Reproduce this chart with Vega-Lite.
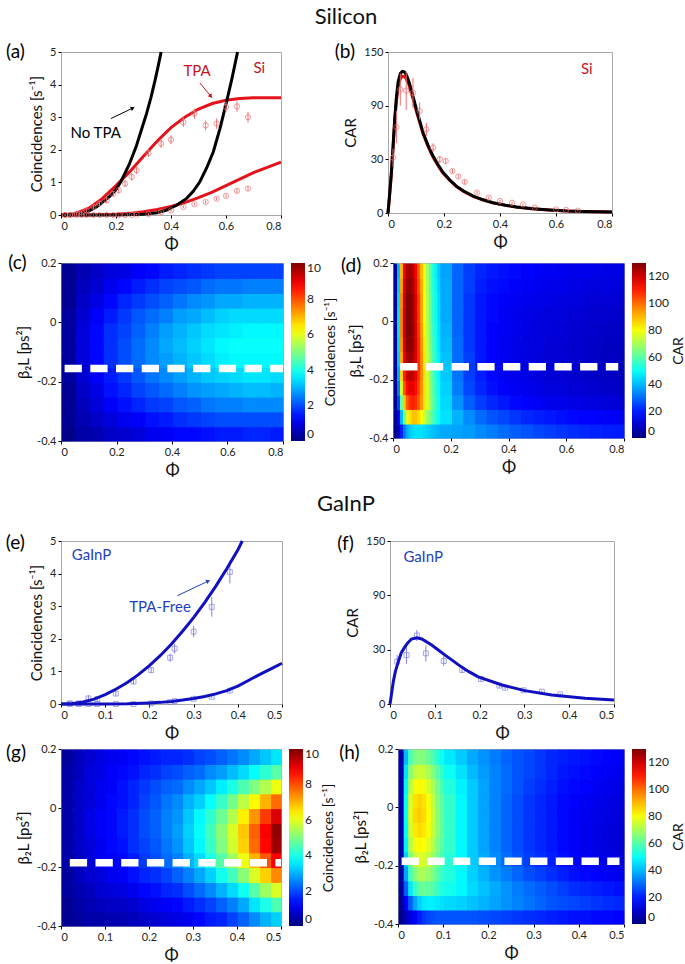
{
"$schema":"https://vega.github.io/schema/vega-lite/v6.json",
"background":"white",
"padding":5,
"config":{"font":"Lato","view":{"stroke":"#A8A8A8","strokeWidth":1},
"axis":{"grid":false,"domain":false,"tickSize":3,"tickColor":"#000","labelFontSize":11,"labelColor":"#222","titleFontSize":15,"titleFontWeight":"normal","titleColor":"#111","labelPadding":2,"titlePadding":5,"format":".3~f","labelOverlap":false,"labelExpr":"replace(datum.label,'−','-')"},
"legend":{"gradientThickness":14,"labelFontSize":12,"labelColor":"#222","titleFontSize":14,"titleFontWeight":"normal","titleColor":"#111","titleOrient":"right","titleAnchor":"middle","offset":8,"labelOffset":3,"titlePadding":3,"gradientStrokeWidth":0,"titleLimit":400},
"title":{"fontWeight":"normal","fontSize":22,"color":"#111","anchor":"middle"}},
"datasets":{
"aRed":[{"s":"r1","x":0,"y":0},{"s":"r1","x":0.05,"y":0.04},{"s":"r1","x":0.1,"y":0.2},{"s":"r1","x":0.15,"y":0.5},{"s":"r1","x":0.2,"y":0.9},{"s":"r1","x":0.25,"y":1.33},{"s":"r1","x":0.3,"y":1.8},{"s":"r1","x":0.35,"y":2.27},{"s":"r1","x":0.4,"y":2.68},{"s":"r1","x":0.45,"y":3.0},{"s":"r1","x":0.5,"y":3.25},{"s":"r1","x":0.55,"y":3.42},{"s":"r1","x":0.6,"y":3.52},{"s":"r1","x":0.65,"y":3.57},{"s":"r1","x":0.7,"y":3.6},{"s":"r1","x":0.75,"y":3.6},{"s":"r1","x":0.8,"y":3.6},
{"s":"r2","x":0,"y":0},{"s":"r2","x":0.1,"y":0},{"s":"r2","x":0.2,"y":0.02},{"s":"r2","x":0.25,"y":0.05},{"s":"r2","x":0.3,"y":0.1},{"s":"r2","x":0.35,"y":0.17},{"s":"r2","x":0.4,"y":0.26},{"s":"r2","x":0.45,"y":0.38},{"s":"r2","x":0.5,"y":0.53},{"s":"r2","x":0.55,"y":0.7},{"s":"r2","x":0.6,"y":0.9},{"s":"r2","x":0.65,"y":1.1},{"s":"r2","x":0.7,"y":1.3},{"s":"r2","x":0.75,"y":1.46},{"s":"r2","x":0.8,"y":1.62}],
"aBlack":[{"s":"k1","x":0,"y":0},{"s":"k1","x":0.04,"y":0.01},{"s":"k1","x":0.07,"y":0.04},{"s":"k1","x":0.1,"y":0.12},{"s":"k1","x":0.13,"y":0.25},{"s":"k1","x":0.155,"y":0.42},{"s":"k1","x":0.178,"y":0.58},{"s":"k1","x":0.2,"y":0.78},{"s":"k1","x":0.22,"y":1.06},{"s":"k1","x":0.248,"y":1.55},{"s":"k1","x":0.273,"y":2.09},{"s":"k1","x":0.292,"y":2.6},{"s":"k1","x":0.311,"y":3.11},{"s":"k1","x":0.327,"y":3.6},{"s":"k1","x":0.342,"y":4.13},{"s":"k1","x":0.353,"y":4.55},{"s":"k1","x":0.364,"y":5},
{"s":"k2","x":0,"y":0},{"s":"k2","x":0.2,"y":0},{"s":"k2","x":0.3,"y":0.02},{"s":"k2","x":0.35,"y":0.07},{"s":"k2","x":0.384,"y":0.15},{"s":"k2","x":0.42,"y":0.3},{"s":"k2","x":0.457,"y":0.51},{"s":"k2","x":0.48,"y":0.72},{"s":"k2","x":0.505,"y":1.02},{"s":"k2","x":0.53,"y":1.45},{"s":"k2","x":0.554,"y":1.94},{"s":"k2","x":0.578,"y":2.65},{"s":"k2","x":0.602,"y":3.47},{"s":"k2","x":0.622,"y":4.2},{"s":"k2","x":0.642,"y":5}],
"aPts":[{"x":0.015,"y":0,"lo":-0.03,"hi":0.03},{"x":0.033,"y":0.01,"lo":-0.02,"hi":0.04},{"x":0.057,"y":0.04,"lo":0,"hi":0.08},{"x":0.075,"y":0.08,"lo":0.03,"hi":0.13},{"x":0.093,"y":0.14,"lo":0.08,"hi":0.2},{"x":0.118,"y":0.25,"lo":0.18,"hi":0.32},{"x":0.14,"y":0.35,"lo":0.27,"hi":0.43},{"x":0.166,"y":0.45,"lo":0.36,"hi":0.54},{"x":0.19,"y":0.65,"lo":0.56,"hi":0.74},{"x":0.21,"y":0.76,"lo":0.66,"hi":0.86},{"x":0.233,"y":0.96,"lo":0.86,"hi":1.06},{"x":0.257,"y":1.17,"lo":1.06,"hi":1.28},{"x":0.275,"y":1.37,"lo":1.26,"hi":1.48},{"x":0.318,"y":1.9,"lo":1.78,"hi":2.02},{"x":0.364,"y":2.19,"lo":2.06,"hi":2.32},{"x":0.4,"y":2.31,"lo":2.17,"hi":2.45},{"x":0.445,"y":2.85,"lo":2.7,"hi":3.0},{"x":0.485,"y":3.11,"lo":2.95,"hi":3.27},{"x":0.526,"y":2.75,"lo":2.6,"hi":2.9},{"x":0.566,"y":2.8,"lo":2.64,"hi":2.96},{"x":0.6,"y":3.31,"lo":3.15,"hi":3.47},{"x":0.64,"y":3.33,"lo":3.17,"hi":3.49},{"x":0.68,"y":3.0,"lo":2.84,"hi":3.16},
{"x":0.015,"y":0,"lo":-0.02,"hi":0.02},{"x":0.033,"y":0,"lo":-0.02,"hi":0.02},{"x":0.057,"y":0,"lo":-0.02,"hi":0.02},{"x":0.075,"y":0,"lo":-0.02,"hi":0.02},{"x":0.093,"y":0,"lo":-0.02,"hi":0.02},{"x":0.118,"y":0,"lo":-0.02,"hi":0.02},{"x":0.14,"y":0,"lo":-0.02,"hi":0.02},{"x":0.166,"y":0,"lo":-0.02,"hi":0.02},{"x":0.19,"y":0,"lo":-0.02,"hi":0.02},{"x":0.21,"y":0,"lo":-0.02,"hi":0.02},{"x":0.233,"y":0,"lo":-0.02,"hi":0.02},{"x":0.257,"y":0,"lo":-0.02,"hi":0.02},{"x":0.275,"y":0.01,"lo":-0.01,"hi":0.03},{"x":0.318,"y":0.03,"lo":0.0,"hi":0.06},{"x":0.364,"y":0.09,"lo":0.06,"hi":0.12},{"x":0.4,"y":0.14,"lo":0.1,"hi":0.18},{"x":0.445,"y":0.25,"lo":0.21,"hi":0.29},{"x":0.485,"y":0.33,"lo":0.29,"hi":0.37},{"x":0.526,"y":0.4,"lo":0.35,"hi":0.45},{"x":0.566,"y":0.5,"lo":0.45,"hi":0.55},{"x":0.6,"y":0.59,"lo":0.54,"hi":0.64},{"x":0.64,"y":0.74,"lo":0.68,"hi":0.8},{"x":0.68,"y":0.81,"lo":0.75,"hi":0.87}],
"bRed":[{"x":0,"y":0},{"x":0.006,"y":17},{"x":0.012,"y":36},{"x":0.018,"y":60},{"x":0.024,"y":85},{"x":0.03,"y":104},{"x":0.036,"y":117},{"x":0.044,"y":125},{"x":0.051,"y":127.5},{"x":0.058,"y":127},{"x":0.065,"y":125},{"x":0.074,"y":120},{"x":0.083,"y":112},{"x":0.092,"y":104},{"x":0.101,"y":95},{"x":0.113,"y":84.5},{"x":0.125,"y":74},{"x":0.143,"y":62},{"x":0.161,"y":52},{"x":0.18,"y":43.5},{"x":0.196,"y":37.3},{"x":0.22,"y":30.5},{"x":0.244,"y":24.6},{"x":0.27,"y":20},{"x":0.304,"y":15.5},{"x":0.34,"y":12},{"x":0.375,"y":9.4},{"x":0.42,"y":7.1},{"x":0.458,"y":5.5},{"x":0.52,"y":3.8},{"x":0.577,"y":2.7},{"x":0.64,"y":1.85},{"x":0.696,"y":1.45},{"x":0.75,"y":1.1},{"x":0.8,"y":0.85}],
"bBlack":[{"x":0,"y":0},{"x":0.006,"y":18},{"x":0.012,"y":37.6},{"x":0.018,"y":62},{"x":0.024,"y":88},{"x":0.03,"y":108},{"x":0.036,"y":122},{"x":0.044,"y":130},{"x":0.051,"y":132},{"x":0.058,"y":131.5},{"x":0.065,"y":129},{"x":0.074,"y":123},{"x":0.083,"y":115},{"x":0.092,"y":106},{"x":0.101,"y":97},{"x":0.113,"y":86},{"x":0.125,"y":75},{"x":0.143,"y":63},{"x":0.161,"y":53},{"x":0.18,"y":44.5},{"x":0.196,"y":38},{"x":0.22,"y":31},{"x":0.244,"y":25},{"x":0.27,"y":20.5},{"x":0.304,"y":15.8},{"x":0.34,"y":12.3},{"x":0.375,"y":9.6},{"x":0.42,"y":7.3},{"x":0.458,"y":5.6},{"x":0.52,"y":3.9},{"x":0.577,"y":2.8},{"x":0.64,"y":1.9},{"x":0.696,"y":1.5},{"x":0.75,"y":1.15},{"x":0.8,"y":0.9}],
"bPts":[{"x":0.018,"y":51.6,"lo":43,"hi":60},{"x":0.03,"y":80,"lo":65,"hi":95},{"x":0.044,"y":115,"lo":100,"hi":130},{"x":0.065,"y":114,"lo":96,"hi":132},{"x":0.089,"y":112,"lo":98,"hi":126},{"x":0.113,"y":95,"lo":87,"hi":103},{"x":0.137,"y":78,"lo":72,"hi":84},{"x":0.161,"y":61,"lo":57,"hi":65},{"x":0.185,"y":50,"lo":47,"hi":53},{"x":0.206,"y":48.4,"lo":46,"hi":51},{"x":0.23,"y":39,"lo":37,"hi":41},{"x":0.251,"y":34,"lo":32,"hi":36},{"x":0.274,"y":29,"lo":27,"hi":31},{"x":0.318,"y":19,"lo":17.5,"hi":20.5},{"x":0.36,"y":14.3,"lo":13,"hi":15.5},{"x":0.4,"y":11.2,"lo":10,"hi":12.4},{"x":0.443,"y":9.6,"lo":8.6,"hi":10.6},{"x":0.482,"y":8,"lo":7,"hi":9},{"x":0.524,"y":5,"lo":4.2,"hi":5.8},{"x":0.6,"y":3.4,"lo":2.9,"hi":3.9},{"x":0.636,"y":2.8,"lo":2.3,"hi":3.3},{"x":0.678,"y":2.2,"lo":1.7,"hi":2.7}],
"eLines":[{"s":"u","x":0,"y":0},{"s":"u","x":0.025,"y":0.01},{"s":"u","x":0.05,"y":0.06},{"s":"u","x":0.075,"y":0.15},{"s":"u","x":0.1,"y":0.29},{"s":"u","x":0.125,"y":0.46},{"s":"u","x":0.15,"y":0.66},{"s":"u","x":0.175,"y":0.9},{"s":"u","x":0.2,"y":1.18},{"s":"u","x":0.225,"y":1.49},{"s":"u","x":0.25,"y":1.84},{"s":"u","x":0.275,"y":2.23},{"s":"u","x":0.3,"y":2.65},{"s":"u","x":0.325,"y":3.11},{"s":"u","x":0.35,"y":3.61},{"s":"u","x":0.375,"y":4.15},{"s":"u","x":0.4,"y":4.72},{"s":"u","x":0.41,"y":5},
{"s":"l","x":0,"y":0},{"s":"l","x":0.1,"y":0},{"s":"l","x":0.15,"y":0.005},{"s":"l","x":0.2,"y":0.03},{"s":"l","x":0.225,"y":0.05},{"s":"l","x":0.25,"y":0.08},{"s":"l","x":0.275,"y":0.12},{"s":"l","x":0.3,"y":0.17},{"s":"l","x":0.325,"y":0.23},{"s":"l","x":0.35,"y":0.31},{"s":"l","x":0.375,"y":0.41},{"s":"l","x":0.4,"y":0.55},{"s":"l","x":0.425,"y":0.73},{"s":"l","x":0.45,"y":0.91},{"s":"l","x":0.475,"y":1.08},{"s":"l","x":0.5,"y":1.25}],
"ePts":[{"x":0.02,"y":0.02,"lo":-0.03,"hi":0.07},{"x":0.04,"y":0.02,"lo":-0.03,"hi":0.07},{"x":0.062,"y":0.17,"lo":0.07,"hi":0.27},{"x":0.082,"y":0.15,"lo":0.07,"hi":0.23},{"x":0.124,"y":0.32,"lo":0.25,"hi":0.39},{"x":0.164,"y":0.69,"lo":0.6,"hi":0.78},{"x":0.204,"y":1.04,"lo":0.95,"hi":1.13},{"x":0.247,"y":1.42,"lo":1.3,"hi":1.54},{"x":0.257,"y":1.7,"lo":1.55,"hi":1.85},{"x":0.3,"y":2.22,"lo":2.05,"hi":2.39},{"x":0.341,"y":2.98,"lo":2.68,"hi":3.28},{"x":0.382,"y":4.05,"lo":3.7,"hi":4.4},
{"x":0.02,"y":0,"lo":-0.02,"hi":0.02},{"x":0.04,"y":0,"lo":-0.02,"hi":0.02},{"x":0.062,"y":0,"lo":-0.02,"hi":0.02},{"x":0.082,"y":0,"lo":-0.02,"hi":0.02},{"x":0.124,"y":0,"lo":-0.02,"hi":0.02},{"x":0.164,"y":0,"lo":-0.02,"hi":0.02},{"x":0.204,"y":0.02,"lo":0,"hi":0.04},{"x":0.247,"y":0.06,"lo":0.03,"hi":0.09},{"x":0.257,"y":0.09,"lo":0.06,"hi":0.12},{"x":0.3,"y":0.16,"lo":0.12,"hi":0.2},{"x":0.341,"y":0.22,"lo":0.18,"hi":0.26},{"x":0.382,"y":0.41,"lo":0.36,"hi":0.46}],
"fLine":[{"x":0,"y":0},{"x":0.003,"y":8},{"x":0.0074,"y":20.6},{"x":0.012,"y":30},{"x":0.0186,"y":39},{"x":0.025,"y":47},{"x":0.0335,"y":52.8},{"x":0.04,"y":56.5},{"x":0.048,"y":59.8},{"x":0.06,"y":61},{"x":0.071,"y":59.8},{"x":0.093,"y":54.3},{"x":0.11,"y":49},{"x":0.123,"y":45},{"x":0.153,"y":36},{"x":0.175,"y":30},{"x":0.197,"y":25},{"x":0.25,"y":17.5},{"x":0.301,"y":12.3},{"x":0.361,"y":8.3},{"x":0.435,"y":5.2},{"x":0.5,"y":3.7}],
"fPts":[{"x":0.016,"y":39,"lo":33,"hi":45},{"x":0.037,"y":45,"lo":37,"hi":53},{"x":0.06,"y":63,"lo":58,"hi":68},{"x":0.08,"y":46.6,"lo":39,"hi":54},{"x":0.12,"y":39.6,"lo":35,"hi":44.5},{"x":0.161,"y":31.3,"lo":28.5,"hi":34},{"x":0.203,"y":23,"lo":21,"hi":25},{"x":0.244,"y":16.9,"lo":15,"hi":18.8},{"x":0.257,"y":15,"lo":13.5,"hi":16.5},{"x":0.298,"y":12.6,"lo":11.2,"hi":14},{"x":0.339,"y":11.3,"lo":10.3,"hi":12.3},{"x":0.38,"y":8.9,"lo":8,"hi":9.8}],
"cMap":[
{"x":0,"y":0.15,"v":0.2},{"x":0.05,"y":0.15,"v":0.5},{"x":0.1,"y":0.15,"v":0.7},{"x":0.15,"y":0.15,"v":0.9},{"x":0.2,"y":0.15,"v":1.0},{"x":0.25,"y":0.15,"v":1.2},{"x":0.3,"y":0.15,"v":1.3},{"x":0.35,"y":0.15,"v":1.5},{"x":0.4,"y":0.15,"v":1.6},{"x":0.45,"y":0.15,"v":1.7},{"x":0.5,"y":0.15,"v":1.8},{"x":0.55,"y":0.15,"v":1.9},{"x":0.6,"y":0.15,"v":1.9},{"x":0.65,"y":0.15,"v":1.9},{"x":0.7,"y":0.15,"v":1.9},{"x":0.75,"y":0.15,"v":1.9},
{"x":0,"y":0.1,"v":0.2},{"x":0.05,"y":0.1,"v":0.6},{"x":0.1,"y":0.1,"v":0.8},{"x":0.15,"y":0.1,"v":1.1},{"x":0.2,"y":0.1,"v":1.3},{"x":0.25,"y":0.1,"v":1.5},{"x":0.3,"y":0.1,"v":1.7},{"x":0.35,"y":0.1,"v":1.9},{"x":0.4,"y":0.1,"v":2.0},{"x":0.45,"y":0.1,"v":2.1},{"x":0.5,"y":0.1,"v":2.3},{"x":0.55,"y":0.1,"v":2.4},{"x":0.6,"y":0.1,"v":2.4},{"x":0.65,"y":0.1,"v":2.5},{"x":0.7,"y":0.1,"v":2.5},{"x":0.75,"y":0.1,"v":2.5},
{"x":0,"y":0.05,"v":0.2},{"x":0.05,"y":0.05,"v":0.7},{"x":0.1,"y":0.05,"v":1.0},{"x":0.15,"y":0.05,"v":1.3},{"x":0.2,"y":0.05,"v":1.6},{"x":0.25,"y":0.05,"v":1.8},{"x":0.3,"y":0.05,"v":2.0},{"x":0.35,"y":0.05,"v":2.2},{"x":0.4,"y":0.05,"v":2.4},{"x":0.45,"y":0.05,"v":2.6},{"x":0.5,"y":0.05,"v":2.7},{"x":0.55,"y":0.05,"v":2.9},{"x":0.6,"y":0.05,"v":2.9},{"x":0.65,"y":0.05,"v":3.0},{"x":0.7,"y":0.05,"v":3.0},{"x":0.75,"y":0.05,"v":3.0},
{"x":0,"y":0,"v":0.3},{"x":0.05,"y":0,"v":0.8},{"x":0.1,"y":0,"v":1.2},{"x":0.15,"y":0,"v":1.5},{"x":0.2,"y":0,"v":1.8},{"x":0.25,"y":0,"v":2.1},{"x":0.3,"y":0,"v":2.3},{"x":0.35,"y":0,"v":2.5},{"x":0.4,"y":0,"v":2.8},{"x":0.45,"y":0,"v":2.9},{"x":0.5,"y":0,"v":3.1},{"x":0.55,"y":0,"v":3.3},{"x":0.6,"y":0,"v":3.4},{"x":0.65,"y":0,"v":3.4},{"x":0.7,"y":0,"v":3.4},{"x":0.75,"y":0,"v":3.4},
{"x":0,"y":-0.05,"v":0.3},{"x":0.05,"y":-0.05,"v":0.9},{"x":0.1,"y":-0.05,"v":1.3},{"x":0.15,"y":-0.05,"v":1.7},{"x":0.2,"y":-0.05,"v":1.9},{"x":0.25,"y":-0.05,"v":2.2},{"x":0.3,"y":-0.05,"v":2.5},{"x":0.35,"y":-0.05,"v":2.8},{"x":0.4,"y":-0.05,"v":3.0},{"x":0.45,"y":-0.05,"v":3.2},{"x":0.5,"y":-0.05,"v":3.4},{"x":0.55,"y":-0.05,"v":3.5},{"x":0.6,"y":-0.05,"v":3.6},{"x":0.65,"y":-0.05,"v":3.7},{"x":0.7,"y":-0.05,"v":3.7},{"x":0.75,"y":-0.05,"v":3.7},
{"x":0,"y":-0.1,"v":0.3},{"x":0.05,"y":-0.1,"v":0.9},{"x":0.1,"y":-0.1,"v":1.3},{"x":0.15,"y":-0.1,"v":1.7},{"x":0.2,"y":-0.1,"v":2.0},{"x":0.25,"y":-0.1,"v":2.3},{"x":0.3,"y":-0.1,"v":2.6},{"x":0.35,"y":-0.1,"v":2.9},{"x":0.4,"y":-0.1,"v":3.1},{"x":0.45,"y":-0.1,"v":3.3},{"x":0.5,"y":-0.1,"v":3.5},{"x":0.55,"y":-0.1,"v":3.7},{"x":0.6,"y":-0.1,"v":3.8},{"x":0.65,"y":-0.1,"v":3.8},{"x":0.7,"y":-0.1,"v":3.8},{"x":0.75,"y":-0.1,"v":3.8},
{"x":0,"y":-0.15,"v":0.3},{"x":0.05,"y":-0.15,"v":0.9},{"x":0.1,"y":-0.15,"v":1.3},{"x":0.15,"y":-0.15,"v":1.7},{"x":0.2,"y":-0.15,"v":2.0},{"x":0.25,"y":-0.15,"v":2.3},{"x":0.3,"y":-0.15,"v":2.6},{"x":0.35,"y":-0.15,"v":2.8},{"x":0.4,"y":-0.15,"v":3.0},{"x":0.45,"y":-0.15,"v":3.2},{"x":0.5,"y":-0.15,"v":3.4},{"x":0.55,"y":-0.15,"v":3.6},{"x":0.6,"y":-0.15,"v":3.7},{"x":0.65,"y":-0.15,"v":3.7},{"x":0.7,"y":-0.15,"v":3.7},{"x":0.75,"y":-0.15,"v":3.7},
{"x":0,"y":-0.2,"v":0.3},{"x":0.05,"y":-0.2,"v":0.8},{"x":0.1,"y":-0.2,"v":1.2},{"x":0.15,"y":-0.2,"v":1.5},{"x":0.2,"y":-0.2,"v":1.8},{"x":0.25,"y":-0.2,"v":2.1},{"x":0.3,"y":-0.2,"v":2.4},{"x":0.35,"y":-0.2,"v":2.6},{"x":0.4,"y":-0.2,"v":2.8},{"x":0.45,"y":-0.2,"v":3.0},{"x":0.5,"y":-0.2,"v":3.2},{"x":0.55,"y":-0.2,"v":3.3},{"x":0.6,"y":-0.2,"v":3.4},{"x":0.65,"y":-0.2,"v":3.5},{"x":0.7,"y":-0.2,"v":3.5},{"x":0.75,"y":-0.2,"v":3.4},
{"x":0,"y":-0.25,"v":0.2},{"x":0.05,"y":-0.25,"v":0.7},{"x":0.1,"y":-0.25,"v":1.0},{"x":0.15,"y":-0.25,"v":1.4},{"x":0.2,"y":-0.25,"v":1.6},{"x":0.25,"y":-0.25,"v":1.9},{"x":0.3,"y":-0.25,"v":2.1},{"x":0.35,"y":-0.25,"v":2.3},{"x":0.4,"y":-0.25,"v":2.5},{"x":0.45,"y":-0.25,"v":2.7},{"x":0.5,"y":-0.25,"v":2.8},{"x":0.55,"y":-0.25,"v":2.9},{"x":0.6,"y":-0.25,"v":3.0},{"x":0.65,"y":-0.25,"v":3.1},{"x":0.7,"y":-0.25,"v":3.1},{"x":0.75,"y":-0.25,"v":3.0},
{"x":0,"y":-0.3,"v":0.2},{"x":0.05,"y":-0.3,"v":0.6},{"x":0.1,"y":-0.3,"v":0.9},{"x":0.15,"y":-0.3,"v":1.2},{"x":0.2,"y":-0.3,"v":1.4},{"x":0.25,"y":-0.3,"v":1.6},{"x":0.3,"y":-0.3,"v":1.8},{"x":0.35,"y":-0.3,"v":1.9},{"x":0.4,"y":-0.3,"v":2.1},{"x":0.45,"y":-0.3,"v":2.2},{"x":0.5,"y":-0.3,"v":2.4},{"x":0.55,"y":-0.3,"v":2.5},{"x":0.6,"y":-0.3,"v":2.5},{"x":0.65,"y":-0.3,"v":2.6},{"x":0.7,"y":-0.3,"v":2.6},{"x":0.75,"y":-0.3,"v":2.6},
{"x":0,"y":-0.35,"v":0.2},{"x":0.05,"y":-0.35,"v":0.5},{"x":0.1,"y":-0.35,"v":0.7},{"x":0.15,"y":-0.35,"v":0.9},{"x":0.2,"y":-0.35,"v":1.1},{"x":0.25,"y":-0.35,"v":1.2},{"x":0.3,"y":-0.35,"v":1.4},{"x":0.35,"y":-0.35,"v":1.5},{"x":0.4,"y":-0.35,"v":1.7},{"x":0.45,"y":-0.35,"v":1.8},{"x":0.5,"y":-0.35,"v":1.9},{"x":0.55,"y":-0.35,"v":2.0},{"x":0.6,"y":-0.35,"v":2.0},{"x":0.65,"y":-0.35,"v":2.0},{"x":0.7,"y":-0.35,"v":2.0},{"x":0.75,"y":-0.35,"v":2.0},
{"x":0,"y":-0.4,"v":0.1},{"x":0.05,"y":-0.4,"v":0.4},{"x":0.1,"y":-0.4,"v":0.5},{"x":0.15,"y":-0.4,"v":0.7},{"x":0.2,"y":-0.4,"v":0.8},{"x":0.25,"y":-0.4,"v":0.9},{"x":0.3,"y":-0.4,"v":1.1},{"x":0.35,"y":-0.4,"v":1.2},{"x":0.4,"y":-0.4,"v":1.3},{"x":0.45,"y":-0.4,"v":1.3},{"x":0.5,"y":-0.4,"v":1.4},{"x":0.55,"y":-0.4,"v":1.5},{"x":0.6,"y":-0.4,"v":1.5},{"x":0.65,"y":-0.4,"v":1.6},{"x":0.7,"y":-0.4,"v":1.6},{"x":0.75,"y":-0.4,"v":1.5}],
"dFine":[
{"x":0,"y":0.15,"v":4},{"x":0.01,"y":0.15,"v":40},{"x":0.02,"y":0.15,"v":90},{"x":0.03,"y":0.15,"v":115},{"x":0.04,"y":0.15,"v":124},{"x":0.05,"y":0.15,"v":126},{"x":0.06,"y":0.15,"v":123},{"x":0.07,"y":0.15,"v":114},{"x":0.08,"y":0.15,"v":102},{"x":0.09,"y":0.15,"v":90},{"x":0.1,"y":0.15,"v":79},{"x":0.11,"y":0.15,"v":69},{"x":0.12,"y":0.15,"v":60},{"x":0.13,"y":0.15,"v":53},{"x":0.14,"y":0.15,"v":47},{"x":0.15,"y":0.15,"v":42},
{"x":0,"y":0.1,"v":4},{"x":0.01,"y":0.1,"v":42},{"x":0.02,"y":0.1,"v":93},{"x":0.03,"y":0.1,"v":118},{"x":0.04,"y":0.1,"v":127},{"x":0.05,"y":0.1,"v":128},{"x":0.06,"y":0.1,"v":125},{"x":0.07,"y":0.1,"v":116},{"x":0.08,"y":0.1,"v":104},{"x":0.09,"y":0.1,"v":92},{"x":0.1,"y":0.1,"v":80},{"x":0.11,"y":0.1,"v":70},{"x":0.12,"y":0.1,"v":61},{"x":0.13,"y":0.1,"v":54},{"x":0.14,"y":0.1,"v":48},{"x":0.15,"y":0.1,"v":43},
{"x":0,"y":0.05,"v":4},{"x":0.01,"y":0.05,"v":44},{"x":0.02,"y":0.05,"v":96},{"x":0.03,"y":0.05,"v":120},{"x":0.04,"y":0.05,"v":129},{"x":0.05,"y":0.05,"v":130},{"x":0.06,"y":0.05,"v":127},{"x":0.07,"y":0.05,"v":118},{"x":0.08,"y":0.05,"v":106},{"x":0.09,"y":0.05,"v":93},{"x":0.1,"y":0.05,"v":81},{"x":0.11,"y":0.05,"v":71},{"x":0.12,"y":0.05,"v":62},{"x":0.13,"y":0.05,"v":55},{"x":0.14,"y":0.05,"v":49},{"x":0.15,"y":0.05,"v":44},
{"x":0,"y":0,"v":4},{"x":0.01,"y":0,"v":45},{"x":0.02,"y":0,"v":97},{"x":0.03,"y":0,"v":121},{"x":0.04,"y":0,"v":130},{"x":0.05,"y":0,"v":130},{"x":0.06,"y":0,"v":127},{"x":0.07,"y":0,"v":118},{"x":0.08,"y":0,"v":106},{"x":0.09,"y":0,"v":93},{"x":0.1,"y":0,"v":81},{"x":0.11,"y":0,"v":71},{"x":0.12,"y":0,"v":62},{"x":0.13,"y":0,"v":55},{"x":0.14,"y":0,"v":49},{"x":0.15,"y":0,"v":44},
{"x":0,"y":-0.05,"v":4},{"x":0.01,"y":-0.05,"v":45},{"x":0.02,"y":-0.05,"v":97},{"x":0.03,"y":-0.05,"v":121},{"x":0.04,"y":-0.05,"v":130},{"x":0.05,"y":-0.05,"v":130},{"x":0.06,"y":-0.05,"v":127},{"x":0.07,"y":-0.05,"v":119},{"x":0.08,"y":-0.05,"v":107},{"x":0.09,"y":-0.05,"v":94},{"x":0.1,"y":-0.05,"v":82},{"x":0.11,"y":-0.05,"v":72},{"x":0.12,"y":-0.05,"v":63},{"x":0.13,"y":-0.05,"v":56},{"x":0.14,"y":-0.05,"v":50},{"x":0.15,"y":-0.05,"v":45},
{"x":0,"y":-0.1,"v":4},{"x":0.01,"y":-0.1,"v":44},{"x":0.02,"y":-0.1,"v":95},{"x":0.03,"y":-0.1,"v":119},{"x":0.04,"y":-0.1,"v":128},{"x":0.05,"y":-0.1,"v":129},{"x":0.06,"y":-0.1,"v":127},{"x":0.07,"y":-0.1,"v":119},{"x":0.08,"y":-0.1,"v":108},{"x":0.09,"y":-0.1,"v":95},{"x":0.1,"y":-0.1,"v":83},{"x":0.11,"y":-0.1,"v":73},{"x":0.12,"y":-0.1,"v":64},{"x":0.13,"y":-0.1,"v":57},{"x":0.14,"y":-0.1,"v":51},{"x":0.15,"y":-0.1,"v":46},
{"x":0,"y":-0.15,"v":4},{"x":0.01,"y":-0.15,"v":42},{"x":0.02,"y":-0.15,"v":92},{"x":0.03,"y":-0.15,"v":116},{"x":0.04,"y":-0.15,"v":125},{"x":0.05,"y":-0.15,"v":127},{"x":0.06,"y":-0.15,"v":125},{"x":0.07,"y":-0.15,"v":118},{"x":0.08,"y":-0.15,"v":108},{"x":0.09,"y":-0.15,"v":96},{"x":0.1,"y":-0.15,"v":84},{"x":0.11,"y":-0.15,"v":74},{"x":0.12,"y":-0.15,"v":65},{"x":0.13,"y":-0.15,"v":58},{"x":0.14,"y":-0.15,"v":52},{"x":0.15,"y":-0.15,"v":47},
{"x":0,"y":-0.2,"v":4},{"x":0.01,"y":-0.2,"v":38},{"x":0.02,"y":-0.2,"v":86},{"x":0.03,"y":-0.2,"v":110},{"x":0.04,"y":-0.2,"v":120},{"x":0.05,"y":-0.2,"v":123},{"x":0.06,"y":-0.2,"v":122},{"x":0.07,"y":-0.2,"v":116},{"x":0.08,"y":-0.2,"v":107},{"x":0.09,"y":-0.2,"v":96},{"x":0.1,"y":-0.2,"v":85},{"x":0.11,"y":-0.2,"v":75},{"x":0.12,"y":-0.2,"v":66},{"x":0.13,"y":-0.2,"v":59},{"x":0.14,"y":-0.2,"v":53},{"x":0.15,"y":-0.2,"v":48},
{"x":0,"y":-0.25,"v":3},{"x":0.01,"y":-0.25,"v":32},{"x":0.02,"y":-0.25,"v":76},{"x":0.03,"y":-0.25,"v":102},{"x":0.04,"y":-0.25,"v":113},{"x":0.05,"y":-0.25,"v":117},{"x":0.06,"y":-0.25,"v":117},{"x":0.07,"y":-0.25,"v":113},{"x":0.08,"y":-0.25,"v":105},{"x":0.09,"y":-0.25,"v":95},{"x":0.1,"y":-0.25,"v":85},{"x":0.11,"y":-0.25,"v":76},{"x":0.12,"y":-0.25,"v":67},{"x":0.13,"y":-0.25,"v":60},{"x":0.14,"y":-0.25,"v":54},{"x":0.15,"y":-0.25,"v":49},
{"x":0,"y":-0.3,"v":3},{"x":0.01,"y":-0.3,"v":25},{"x":0.02,"y":-0.3,"v":62},{"x":0.03,"y":-0.3,"v":88},{"x":0.04,"y":-0.3,"v":102},{"x":0.05,"y":-0.3,"v":108},{"x":0.06,"y":-0.3,"v":110},{"x":0.07,"y":-0.3,"v":108},{"x":0.08,"y":-0.3,"v":102},{"x":0.09,"y":-0.3,"v":94},{"x":0.1,"y":-0.3,"v":85},{"x":0.11,"y":-0.3,"v":76},{"x":0.12,"y":-0.3,"v":68},{"x":0.13,"y":-0.3,"v":61},{"x":0.14,"y":-0.3,"v":55},{"x":0.15,"y":-0.3,"v":50},
{"x":0,"y":-0.35,"v":3},{"x":0.01,"y":-0.35,"v":15},{"x":0.02,"y":-0.35,"v":40},{"x":0.03,"y":-0.35,"v":62},{"x":0.04,"y":-0.35,"v":77},{"x":0.05,"y":-0.35,"v":85},{"x":0.06,"y":-0.35,"v":89},{"x":0.07,"y":-0.35,"v":89},{"x":0.08,"y":-0.35,"v":86},{"x":0.09,"y":-0.35,"v":81},{"x":0.1,"y":-0.35,"v":75},{"x":0.11,"y":-0.35,"v":69},{"x":0.12,"y":-0.35,"v":63},{"x":0.13,"y":-0.35,"v":58},{"x":0.14,"y":-0.35,"v":53},{"x":0.15,"y":-0.35,"v":49},
{"x":0,"y":-0.4,"v":2},{"x":0.01,"y":-0.4,"v":8},{"x":0.02,"y":-0.4,"v":20},{"x":0.03,"y":-0.4,"v":31},{"x":0.04,"y":-0.4,"v":38},{"x":0.05,"y":-0.4,"v":42},{"x":0.06,"y":-0.4,"v":44},{"x":0.07,"y":-0.4,"v":45},{"x":0.08,"y":-0.4,"v":45},{"x":0.09,"y":-0.4,"v":45},{"x":0.1,"y":-0.4,"v":44},{"x":0.11,"y":-0.4,"v":43},{"x":0.12,"y":-0.4,"v":42},{"x":0.13,"y":-0.4,"v":41},{"x":0.14,"y":-0.4,"v":40},{"x":0.15,"y":-0.4,"v":39}],
"dCoarse":[
{"x":0.16,"y":0.15,"v":37},{"x":0.2,"y":0.15,"v":29},{"x":0.24,"y":0.15,"v":24},{"x":0.28,"y":0.15,"v":21},{"x":0.32,"y":0.15,"v":19},{"x":0.36,"y":0.15,"v":18},{"x":0.4,"y":0.15,"v":17},{"x":0.44,"y":0.15,"v":16},{"x":0.48,"y":0.15,"v":15.5},{"x":0.52,"y":0.15,"v":15},{"x":0.56,"y":0.15,"v":14.5},{"x":0.6,"y":0.15,"v":14},{"x":0.64,"y":0.15,"v":14},{"x":0.68,"y":0.15,"v":13.5},{"x":0.72,"y":0.15,"v":13},{"x":0.76,"y":0.15,"v":13},
{"x":0.16,"y":0.1,"v":38},{"x":0.2,"y":0.1,"v":29},{"x":0.24,"y":0.1,"v":24},{"x":0.28,"y":0.1,"v":20},{"x":0.32,"y":0.1,"v":18},{"x":0.36,"y":0.1,"v":17},{"x":0.4,"y":0.1,"v":16},{"x":0.44,"y":0.1,"v":15},{"x":0.48,"y":0.1,"v":14.5},{"x":0.52,"y":0.1,"v":14},{"x":0.56,"y":0.1,"v":13.5},{"x":0.6,"y":0.1,"v":13},{"x":0.64,"y":0.1,"v":12.5},{"x":0.68,"y":0.1,"v":12},{"x":0.72,"y":0.1,"v":12},{"x":0.76,"y":0.1,"v":11.5},
{"x":0.16,"y":0.05,"v":38},{"x":0.2,"y":0.05,"v":29},{"x":0.24,"y":0.05,"v":23},{"x":0.28,"y":0.05,"v":19},{"x":0.32,"y":0.05,"v":17},{"x":0.36,"y":0.05,"v":16},{"x":0.4,"y":0.05,"v":15},{"x":0.44,"y":0.05,"v":14},{"x":0.48,"y":0.05,"v":13.5},{"x":0.52,"y":0.05,"v":13},{"x":0.56,"y":0.05,"v":12.5},{"x":0.6,"y":0.05,"v":12},{"x":0.64,"y":0.05,"v":11.5},{"x":0.68,"y":0.05,"v":11},{"x":0.72,"y":0.05,"v":11},{"x":0.76,"y":0.05,"v":10.5},
{"x":0.16,"y":0,"v":38},{"x":0.2,"y":0,"v":29},{"x":0.24,"y":0,"v":23},{"x":0.28,"y":0,"v":19},{"x":0.32,"y":0,"v":17},{"x":0.36,"y":0,"v":15},{"x":0.4,"y":0,"v":14},{"x":0.44,"y":0,"v":13},{"x":0.48,"y":0,"v":12.5},{"x":0.52,"y":0,"v":12},{"x":0.56,"y":0,"v":11.5},{"x":0.6,"y":0,"v":11},{"x":0.64,"y":0,"v":10.5},{"x":0.68,"y":0,"v":10},{"x":0.72,"y":0,"v":10},{"x":0.76,"y":0,"v":9.5},
{"x":0.16,"y":-0.05,"v":39},{"x":0.2,"y":-0.05,"v":29},{"x":0.24,"y":-0.05,"v":23},{"x":0.28,"y":-0.05,"v":19},{"x":0.32,"y":-0.05,"v":16},{"x":0.36,"y":-0.05,"v":15},{"x":0.4,"y":-0.05,"v":14},{"x":0.44,"y":-0.05,"v":13},{"x":0.48,"y":-0.05,"v":12},{"x":0.52,"y":-0.05,"v":11.5},{"x":0.56,"y":-0.05,"v":11},{"x":0.6,"y":-0.05,"v":10.5},{"x":0.64,"y":-0.05,"v":10},{"x":0.68,"y":-0.05,"v":9.5},{"x":0.72,"y":-0.05,"v":9},{"x":0.76,"y":-0.05,"v":9},
{"x":0.16,"y":-0.1,"v":40},{"x":0.2,"y":-0.1,"v":30},{"x":0.24,"y":-0.1,"v":23},{"x":0.28,"y":-0.1,"v":19},{"x":0.32,"y":-0.1,"v":16},{"x":0.36,"y":-0.1,"v":15},{"x":0.4,"y":-0.1,"v":13.5},{"x":0.44,"y":-0.1,"v":12.5},{"x":0.48,"y":-0.1,"v":12},{"x":0.52,"y":-0.1,"v":11},{"x":0.56,"y":-0.1,"v":10.5},{"x":0.6,"y":-0.1,"v":10},{"x":0.64,"y":-0.1,"v":9.5},{"x":0.68,"y":-0.1,"v":9},{"x":0.72,"y":-0.1,"v":8.5},{"x":0.76,"y":-0.1,"v":8.5},
{"x":0.16,"y":-0.15,"v":41},{"x":0.2,"y":-0.15,"v":30},{"x":0.24,"y":-0.15,"v":24},{"x":0.28,"y":-0.15,"v":19},{"x":0.32,"y":-0.15,"v":16},{"x":0.36,"y":-0.15,"v":15},{"x":0.4,"y":-0.15,"v":13.5},{"x":0.44,"y":-0.15,"v":12.5},{"x":0.48,"y":-0.15,"v":11.5},{"x":0.52,"y":-0.15,"v":11},{"x":0.56,"y":-0.15,"v":10.5},{"x":0.6,"y":-0.15,"v":10},{"x":0.64,"y":-0.15,"v":9.5},{"x":0.68,"y":-0.15,"v":9},{"x":0.72,"y":-0.15,"v":8.5},{"x":0.76,"y":-0.15,"v":8},
{"x":0.16,"y":-0.2,"v":42},{"x":0.2,"y":-0.2,"v":31},{"x":0.24,"y":-0.2,"v":24},{"x":0.28,"y":-0.2,"v":20},{"x":0.32,"y":-0.2,"v":17},{"x":0.36,"y":-0.2,"v":15},{"x":0.4,"y":-0.2,"v":14},{"x":0.44,"y":-0.2,"v":13},{"x":0.48,"y":-0.2,"v":12},{"x":0.52,"y":-0.2,"v":11},{"x":0.56,"y":-0.2,"v":10.5},{"x":0.6,"y":-0.2,"v":10},{"x":0.64,"y":-0.2,"v":9.5},{"x":0.68,"y":-0.2,"v":9},{"x":0.72,"y":-0.2,"v":8.5},{"x":0.76,"y":-0.2,"v":8},
{"x":0.16,"y":-0.25,"v":43},{"x":0.2,"y":-0.25,"v":32},{"x":0.24,"y":-0.25,"v":25},{"x":0.28,"y":-0.25,"v":21},{"x":0.32,"y":-0.25,"v":18},{"x":0.36,"y":-0.25,"v":16},{"x":0.4,"y":-0.25,"v":15},{"x":0.44,"y":-0.25,"v":14},{"x":0.48,"y":-0.25,"v":13},{"x":0.52,"y":-0.25,"v":12},{"x":0.56,"y":-0.25,"v":11.5},{"x":0.6,"y":-0.25,"v":11},{"x":0.64,"y":-0.25,"v":10.5},{"x":0.68,"y":-0.25,"v":10},{"x":0.72,"y":-0.25,"v":9.5},{"x":0.76,"y":-0.25,"v":9},
{"x":0.16,"y":-0.3,"v":44},{"x":0.2,"y":-0.3,"v":35},{"x":0.24,"y":-0.3,"v":28},{"x":0.28,"y":-0.3,"v":24},{"x":0.32,"y":-0.3,"v":21},{"x":0.36,"y":-0.3,"v":19},{"x":0.4,"y":-0.3,"v":17},{"x":0.44,"y":-0.3,"v":16},{"x":0.48,"y":-0.3,"v":15},{"x":0.52,"y":-0.3,"v":14},{"x":0.56,"y":-0.3,"v":13.5},{"x":0.6,"y":-0.3,"v":13},{"x":0.64,"y":-0.3,"v":12.5},{"x":0.68,"y":-0.3,"v":12},{"x":0.72,"y":-0.3,"v":11.5},{"x":0.76,"y":-0.3,"v":11},
{"x":0.16,"y":-0.35,"v":45},{"x":0.2,"y":-0.35,"v":39},{"x":0.24,"y":-0.35,"v":34},{"x":0.28,"y":-0.35,"v":30},{"x":0.32,"y":-0.35,"v":27},{"x":0.36,"y":-0.35,"v":25},{"x":0.4,"y":-0.35,"v":23},{"x":0.44,"y":-0.35,"v":21},{"x":0.48,"y":-0.35,"v":20},{"x":0.52,"y":-0.35,"v":19},{"x":0.56,"y":-0.35,"v":18},{"x":0.6,"y":-0.35,"v":17},{"x":0.64,"y":-0.35,"v":16.5},{"x":0.68,"y":-0.35,"v":16},{"x":0.72,"y":-0.35,"v":15.5},{"x":0.76,"y":-0.35,"v":15},
{"x":0.16,"y":-0.4,"v":38},{"x":0.2,"y":-0.4,"v":37},{"x":0.24,"y":-0.4,"v":36},{"x":0.28,"y":-0.4,"v":34},{"x":0.32,"y":-0.4,"v":32},{"x":0.36,"y":-0.4,"v":30},{"x":0.4,"y":-0.4,"v":28},{"x":0.44,"y":-0.4,"v":27},{"x":0.48,"y":-0.4,"v":25},{"x":0.52,"y":-0.4,"v":24},{"x":0.56,"y":-0.4,"v":23},{"x":0.6,"y":-0.4,"v":22},{"x":0.64,"y":-0.4,"v":21},{"x":0.68,"y":-0.4,"v":20.5},{"x":0.72,"y":-0.4,"v":20},{"x":0.76,"y":-0.4,"v":19.5}],
"gMap":[
{"x":0,"y":0.15,"v":0.3},{"x":0.025,"y":0.15,"v":0.6},{"x":0.05,"y":0.15,"v":0.8},{"x":0.075,"y":0.15,"v":1.0},{"x":0.1,"y":0.15,"v":1.1},{"x":0.125,"y":0.15,"v":1.2},{"x":0.15,"y":0.15,"v":1.3},{"x":0.175,"y":0.15,"v":1.4},{"x":0.2,"y":0.15,"v":1.5},{"x":0.225,"y":0.15,"v":1.6},{"x":0.25,"y":0.15,"v":1.6},{"x":0.275,"y":0.15,"v":1.7},{"x":0.3,"y":0.15,"v":1.9},{"x":0.325,"y":0.15,"v":2.0},{"x":0.35,"y":0.15,"v":2.2},{"x":0.375,"y":0.15,"v":2.4},{"x":0.4,"y":0.15,"v":2.6},{"x":0.425,"y":0.15,"v":2.9},{"x":0.45,"y":0.15,"v":3.2},{"x":0.475,"y":0.15,"v":3.5},
{"x":0,"y":0.1,"v":0.4},{"x":0.025,"y":0.1,"v":0.6},{"x":0.05,"y":0.1,"v":0.9},{"x":0.075,"y":0.1,"v":1.0},{"x":0.1,"y":0.1,"v":1.2},{"x":0.125,"y":0.1,"v":1.3},{"x":0.15,"y":0.1,"v":1.4},{"x":0.175,"y":0.1,"v":1.6},{"x":0.2,"y":0.1,"v":1.7},{"x":0.225,"y":0.1,"v":1.9},{"x":0.25,"y":0.1,"v":2.0},{"x":0.275,"y":0.1,"v":2.2},{"x":0.3,"y":0.1,"v":2.3},{"x":0.325,"y":0.1,"v":2.6},{"x":0.35,"y":0.1,"v":2.8},{"x":0.375,"y":0.1,"v":3.1},{"x":0.4,"y":0.1,"v":3.4},{"x":0.425,"y":0.1,"v":3.8},{"x":0.45,"y":0.1,"v":4.2},{"x":0.475,"y":0.1,"v":4.6},
{"x":0,"y":0.05,"v":0.4},{"x":0.025,"y":0.05,"v":0.7},{"x":0.05,"y":0.05,"v":0.9},{"x":0.075,"y":0.05,"v":1.1},{"x":0.1,"y":0.05,"v":1.2},{"x":0.125,"y":0.05,"v":1.4},{"x":0.15,"y":0.05,"v":1.6},{"x":0.175,"y":0.05,"v":1.8},{"x":0.2,"y":0.05,"v":2.0},{"x":0.225,"y":0.05,"v":2.2},{"x":0.25,"y":0.05,"v":2.3},{"x":0.275,"y":0.05,"v":2.6},{"x":0.3,"y":0.05,"v":2.9},{"x":0.325,"y":0.05,"v":3.2},{"x":0.35,"y":0.05,"v":3.6},{"x":0.375,"y":0.05,"v":4.0},{"x":0.4,"y":0.05,"v":4.5},{"x":0.425,"y":0.05,"v":5.0},{"x":0.45,"y":0.05,"v":5.5},{"x":0.475,"y":0.05,"v":6.1},
{"x":0,"y":0,"v":0.4},{"x":0.025,"y":0,"v":0.7},{"x":0.05,"y":0,"v":0.9},{"x":0.075,"y":0,"v":1.1},{"x":0.1,"y":0,"v":1.3},{"x":0.125,"y":0,"v":1.4},{"x":0.15,"y":0,"v":1.6},{"x":0.175,"y":0,"v":1.9},{"x":0.2,"y":0,"v":2.1},{"x":0.225,"y":0,"v":2.4},{"x":0.25,"y":0,"v":2.6},{"x":0.275,"y":0,"v":3.0},{"x":0.3,"y":0,"v":3.3},{"x":0.325,"y":0,"v":3.8},{"x":0.35,"y":0,"v":4.3},{"x":0.375,"y":0,"v":4.9},{"x":0.4,"y":0,"v":5.6},{"x":0.425,"y":0,"v":6.3},{"x":0.45,"y":0,"v":7.0},{"x":0.475,"y":0,"v":7.7},
{"x":0,"y":-0.05,"v":0.4},{"x":0.025,"y":-0.05,"v":0.7},{"x":0.05,"y":-0.05,"v":1.0},{"x":0.075,"y":-0.05,"v":1.2},{"x":0.1,"y":-0.05,"v":1.3},{"x":0.125,"y":-0.05,"v":1.5},{"x":0.15,"y":-0.05,"v":1.7},{"x":0.175,"y":-0.05,"v":2.0},{"x":0.2,"y":-0.05,"v":2.2},{"x":0.225,"y":-0.05,"v":2.5},{"x":0.25,"y":-0.05,"v":2.7},{"x":0.275,"y":-0.05,"v":3.2},{"x":0.3,"y":-0.05,"v":3.7},{"x":0.325,"y":-0.05,"v":4.2},{"x":0.35,"y":-0.05,"v":4.8},{"x":0.375,"y":-0.05,"v":5.5},{"x":0.4,"y":-0.05,"v":6.4},{"x":0.425,"y":-0.05,"v":7.3},{"x":0.45,"y":-0.05,"v":8.2},{"x":0.475,"y":-0.05,"v":9.1},
{"x":0,"y":-0.1,"v":0.4},{"x":0.025,"y":-0.1,"v":0.7},{"x":0.05,"y":-0.1,"v":1.0},{"x":0.075,"y":-0.1,"v":1.2},{"x":0.1,"y":-0.1,"v":1.3},{"x":0.125,"y":-0.1,"v":1.5},{"x":0.15,"y":-0.1,"v":1.7},{"x":0.175,"y":-0.1,"v":2.0},{"x":0.2,"y":-0.1,"v":2.2},{"x":0.225,"y":-0.1,"v":2.5},{"x":0.25,"y":-0.1,"v":2.8},{"x":0.275,"y":-0.1,"v":3.3},{"x":0.3,"y":-0.1,"v":3.8},{"x":0.325,"y":-0.1,"v":4.4},{"x":0.35,"y":-0.1,"v":5.1},{"x":0.375,"y":-0.1,"v":5.9},{"x":0.4,"y":-0.1,"v":6.8},{"x":0.425,"y":-0.1,"v":7.8},{"x":0.45,"y":-0.1,"v":8.8},{"x":0.475,"y":-0.1,"v":9.8},
{"x":0,"y":-0.15,"v":0.4},{"x":0.025,"y":-0.15,"v":0.7},{"x":0.05,"y":-0.15,"v":0.9},{"x":0.075,"y":-0.15,"v":1.1},{"x":0.1,"y":-0.15,"v":1.3},{"x":0.125,"y":-0.15,"v":1.4},{"x":0.15,"y":-0.15,"v":1.7},{"x":0.175,"y":-0.15,"v":1.9},{"x":0.2,"y":-0.15,"v":2.1},{"x":0.225,"y":-0.15,"v":2.4},{"x":0.25,"y":-0.15,"v":2.7},{"x":0.275,"y":-0.15,"v":3.2},{"x":0.3,"y":-0.15,"v":3.7},{"x":0.325,"y":-0.15,"v":4.3},{"x":0.35,"y":-0.15,"v":5.0},{"x":0.375,"y":-0.15,"v":5.8},{"x":0.4,"y":-0.15,"v":6.7},{"x":0.425,"y":-0.15,"v":7.7},{"x":0.45,"y":-0.15,"v":8.7},{"x":0.475,"y":-0.15,"v":9.7},
{"x":0,"y":-0.2,"v":0.4},{"x":0.025,"y":-0.2,"v":0.6},{"x":0.05,"y":-0.2,"v":0.9},{"x":0.075,"y":-0.2,"v":1.1},{"x":0.1,"y":-0.2,"v":1.2},{"x":0.125,"y":-0.2,"v":1.3},{"x":0.15,"y":-0.2,"v":1.5},{"x":0.175,"y":-0.2,"v":1.8},{"x":0.2,"y":-0.2,"v":2.0},{"x":0.225,"y":-0.2,"v":2.3},{"x":0.25,"y":-0.2,"v":2.5},{"x":0.275,"y":-0.2,"v":3.0},{"x":0.3,"y":-0.2,"v":3.4},{"x":0.325,"y":-0.2,"v":4.0},{"x":0.35,"y":-0.2,"v":4.6},{"x":0.375,"y":-0.2,"v":5.3},{"x":0.4,"y":-0.2,"v":6.1},{"x":0.425,"y":-0.2,"v":7.0},{"x":0.45,"y":-0.2,"v":7.9},{"x":0.475,"y":-0.2,"v":8.8},
{"x":0,"y":-0.25,"v":0.3},{"x":0.025,"y":-0.25,"v":0.6},{"x":0.05,"y":-0.25,"v":0.8},{"x":0.075,"y":-0.25,"v":0.9},{"x":0.1,"y":-0.25,"v":1.1},{"x":0.125,"y":-0.25,"v":1.2},{"x":0.15,"y":-0.25,"v":1.4},{"x":0.175,"y":-0.25,"v":1.6},{"x":0.2,"y":-0.25,"v":1.7},{"x":0.225,"y":-0.25,"v":1.9},{"x":0.25,"y":-0.25,"v":2.2},{"x":0.275,"y":-0.25,"v":2.5},{"x":0.3,"y":-0.25,"v":2.9},{"x":0.325,"y":-0.25,"v":3.3},{"x":0.35,"y":-0.25,"v":3.9},{"x":0.375,"y":-0.25,"v":4.4},{"x":0.4,"y":-0.25,"v":5.1},{"x":0.425,"y":-0.25,"v":5.9},{"x":0.45,"y":-0.25,"v":6.7},{"x":0.475,"y":-0.25,"v":7.4},
{"x":0,"y":-0.3,"v":0.3},{"x":0.025,"y":-0.3,"v":0.5},{"x":0.05,"y":-0.3,"v":0.6},{"x":0.075,"y":-0.3,"v":0.8},{"x":0.1,"y":-0.3,"v":0.9},{"x":0.125,"y":-0.3,"v":1.0},{"x":0.15,"y":-0.3,"v":1.1},{"x":0.175,"y":-0.3,"v":1.3},{"x":0.2,"y":-0.3,"v":1.4},{"x":0.225,"y":-0.3,"v":1.6},{"x":0.25,"y":-0.3,"v":1.7},{"x":0.275,"y":-0.3,"v":2.0},{"x":0.3,"y":-0.3,"v":2.3},{"x":0.325,"y":-0.3,"v":2.6},{"x":0.35,"y":-0.3,"v":3.0},{"x":0.375,"y":-0.3,"v":3.4},{"x":0.4,"y":-0.3,"v":3.9},{"x":0.425,"y":-0.3,"v":4.6},{"x":0.45,"y":-0.3,"v":5.3},{"x":0.475,"y":-0.3,"v":5.9},
{"x":0,"y":-0.35,"v":0.2},{"x":0.025,"y":-0.35,"v":0.4},{"x":0.05,"y":-0.35,"v":0.5},{"x":0.075,"y":-0.35,"v":0.6},{"x":0.1,"y":-0.35,"v":0.7},{"x":0.125,"y":-0.35,"v":0.7},{"x":0.15,"y":-0.35,"v":0.8},{"x":0.175,"y":-0.35,"v":1.0},{"x":0.2,"y":-0.35,"v":1.1},{"x":0.225,"y":-0.35,"v":1.2},{"x":0.25,"y":-0.35,"v":1.3},{"x":0.275,"y":-0.35,"v":1.5},{"x":0.3,"y":-0.35,"v":1.7},{"x":0.325,"y":-0.35,"v":1.9},{"x":0.35,"y":-0.35,"v":2.2},{"x":0.375,"y":-0.35,"v":2.5},{"x":0.4,"y":-0.35,"v":2.9},{"x":0.425,"y":-0.35,"v":3.5},{"x":0.45,"y":-0.35,"v":4.0},{"x":0.475,"y":-0.35,"v":4.5},
{"x":0,"y":-0.4,"v":0.2},{"x":0.025,"y":-0.4,"v":0.3},{"x":0.05,"y":-0.4,"v":0.4},{"x":0.075,"y":-0.4,"v":0.4},{"x":0.1,"y":-0.4,"v":0.5},{"x":0.125,"y":-0.4,"v":0.5},{"x":0.15,"y":-0.4,"v":0.6},{"x":0.175,"y":-0.4,"v":0.7},{"x":0.2,"y":-0.4,"v":0.8},{"x":0.225,"y":-0.4,"v":0.9},{"x":0.25,"y":-0.4,"v":1.0},{"x":0.275,"y":-0.4,"v":1.1},{"x":0.3,"y":-0.4,"v":1.3},{"x":0.325,"y":-0.4,"v":1.5},{"x":0.35,"y":-0.4,"v":1.6},{"x":0.375,"y":-0.4,"v":1.9},{"x":0.4,"y":-0.4,"v":2.2},{"x":0.425,"y":-0.4,"v":2.6},{"x":0.45,"y":-0.4,"v":3.0},{"x":0.475,"y":-0.4,"v":3.3}],
"hFine":[
{"x":0,"y":0.15,"v":5},{"x":0.01,"y":0.15,"v":40},{"x":0.02,"y":0.15,"v":58},{"x":0.03,"y":0.15,"v":64},{"x":0.04,"y":0.15,"v":66},{"x":0.05,"y":0.15,"v":65},{"x":0.06,"y":0.15,"v":62},{"x":0.07,"y":0.15,"v":58},{"x":0.08,"y":0.15,"v":54},{"x":0.09,"y":0.15,"v":50},
{"x":0,"y":0.1,"v":5},{"x":0.01,"y":0.1,"v":45},{"x":0.02,"y":0.1,"v":66},{"x":0.03,"y":0.1,"v":73},{"x":0.04,"y":0.1,"v":75},{"x":0.05,"y":0.1,"v":74},{"x":0.06,"y":0.1,"v":70},{"x":0.07,"y":0.1,"v":65},{"x":0.08,"y":0.1,"v":60},{"x":0.09,"y":0.1,"v":55},
{"x":0,"y":0.05,"v":5},{"x":0.01,"y":0.05,"v":48},{"x":0.02,"y":0.05,"v":72},{"x":0.03,"y":0.05,"v":80},{"x":0.04,"y":0.05,"v":82},{"x":0.05,"y":0.05,"v":80},{"x":0.06,"y":0.05,"v":76},{"x":0.07,"y":0.05,"v":70},{"x":0.08,"y":0.05,"v":64},{"x":0.09,"y":0.05,"v":58},
{"x":0,"y":0,"v":5},{"x":0.01,"y":0,"v":50},{"x":0.02,"y":0,"v":76},{"x":0.03,"y":0,"v":85},{"x":0.04,"y":0,"v":87},{"x":0.05,"y":0,"v":85},{"x":0.06,"y":0,"v":80},{"x":0.07,"y":0,"v":73},{"x":0.08,"y":0,"v":66},{"x":0.09,"y":0,"v":60},
{"x":0,"y":-0.05,"v":5},{"x":0.01,"y":-0.05,"v":50},{"x":0.02,"y":-0.05,"v":77},{"x":0.03,"y":-0.05,"v":86},{"x":0.04,"y":-0.05,"v":88},{"x":0.05,"y":-0.05,"v":86},{"x":0.06,"y":-0.05,"v":81},{"x":0.07,"y":-0.05,"v":74},{"x":0.08,"y":-0.05,"v":67},{"x":0.09,"y":-0.05,"v":61},
{"x":0,"y":-0.1,"v":5},{"x":0.01,"y":-0.1,"v":49},{"x":0.02,"y":-0.1,"v":75},{"x":0.03,"y":-0.1,"v":84},{"x":0.04,"y":-0.1,"v":86},{"x":0.05,"y":-0.1,"v":84},{"x":0.06,"y":-0.1,"v":80},{"x":0.07,"y":-0.1,"v":73},{"x":0.08,"y":-0.1,"v":67},{"x":0.09,"y":-0.1,"v":61},
{"x":0,"y":-0.15,"v":5},{"x":0.01,"y":-0.15,"v":47},{"x":0.02,"y":-0.15,"v":71},{"x":0.03,"y":-0.15,"v":80},{"x":0.04,"y":-0.15,"v":82},{"x":0.05,"y":-0.15,"v":81},{"x":0.06,"y":-0.15,"v":77},{"x":0.07,"y":-0.15,"v":71},{"x":0.08,"y":-0.15,"v":65},{"x":0.09,"y":-0.15,"v":60},
{"x":0,"y":-0.2,"v":5},{"x":0.01,"y":-0.2,"v":43},{"x":0.02,"y":-0.2,"v":65},{"x":0.03,"y":-0.2,"v":74},{"x":0.04,"y":-0.2,"v":77},{"x":0.05,"y":-0.2,"v":76},{"x":0.06,"y":-0.2,"v":73},{"x":0.07,"y":-0.2,"v":68},{"x":0.08,"y":-0.2,"v":63},{"x":0.09,"y":-0.2,"v":58},
{"x":0,"y":-0.25,"v":4},{"x":0.01,"y":-0.25,"v":37},{"x":0.02,"y":-0.25,"v":57},{"x":0.03,"y":-0.25,"v":66},{"x":0.04,"y":-0.25,"v":70},{"x":0.05,"y":-0.25,"v":70},{"x":0.06,"y":-0.25,"v":68},{"x":0.07,"y":-0.25,"v":64},{"x":0.08,"y":-0.25,"v":60},{"x":0.09,"y":-0.25,"v":56},
{"x":0,"y":-0.3,"v":4},{"x":0.01,"y":-0.3,"v":28},{"x":0.02,"y":-0.3,"v":46},{"x":0.03,"y":-0.3,"v":56},{"x":0.04,"y":-0.3,"v":61},{"x":0.05,"y":-0.3,"v":62},{"x":0.06,"y":-0.3,"v":61},{"x":0.07,"y":-0.3,"v":59},{"x":0.08,"y":-0.3,"v":56},{"x":0.09,"y":-0.3,"v":53},
{"x":0,"y":-0.35,"v":3},{"x":0.01,"y":-0.35,"v":15},{"x":0.02,"y":-0.35,"v":28},{"x":0.03,"y":-0.35,"v":37},{"x":0.04,"y":-0.35,"v":43},{"x":0.05,"y":-0.35,"v":46},{"x":0.06,"y":-0.35,"v":47},{"x":0.07,"y":-0.35,"v":47},{"x":0.08,"y":-0.35,"v":46},{"x":0.09,"y":-0.35,"v":45},
{"x":0,"y":-0.4,"v":2},{"x":0.01,"y":-0.4,"v":7},{"x":0.02,"y":-0.4,"v":12},{"x":0.03,"y":-0.4,"v":16},{"x":0.04,"y":-0.4,"v":20},{"x":0.05,"y":-0.4,"v":23},{"x":0.06,"y":-0.4,"v":25},{"x":0.07,"y":-0.4,"v":26},{"x":0.08,"y":-0.4,"v":27},{"x":0.09,"y":-0.4,"v":27}],
"hCoarse":[
{"x":0.1,"y":0.15,"v":46},{"x":0.125,"y":0.15,"v":42},{"x":0.15,"y":0.15,"v":38},{"x":0.175,"y":0.15,"v":35},{"x":0.2,"y":0.15,"v":32},{"x":0.225,"y":0.15,"v":29},{"x":0.25,"y":0.15,"v":27},{"x":0.275,"y":0.15,"v":25},{"x":0.3,"y":0.15,"v":23},{"x":0.325,"y":0.15,"v":21},{"x":0.35,"y":0.15,"v":20},{"x":0.375,"y":0.15,"v":19},{"x":0.4,"y":0.15,"v":18},{"x":0.425,"y":0.15,"v":17},{"x":0.45,"y":0.15,"v":16},{"x":0.475,"y":0.15,"v":15},
{"x":0.1,"y":0.1,"v":50},{"x":0.125,"y":0.1,"v":45},{"x":0.15,"y":0.1,"v":40},{"x":0.175,"y":0.1,"v":36},{"x":0.2,"y":0.1,"v":33},{"x":0.225,"y":0.1,"v":30},{"x":0.25,"y":0.1,"v":27},{"x":0.275,"y":0.1,"v":25},{"x":0.3,"y":0.1,"v":23},{"x":0.325,"y":0.1,"v":21},{"x":0.35,"y":0.1,"v":19},{"x":0.375,"y":0.1,"v":18},{"x":0.4,"y":0.1,"v":17},{"x":0.425,"y":0.1,"v":16},{"x":0.45,"y":0.1,"v":15},{"x":0.475,"y":0.1,"v":14},
{"x":0.1,"y":0.05,"v":53},{"x":0.125,"y":0.05,"v":47},{"x":0.15,"y":0.05,"v":42},{"x":0.175,"y":0.05,"v":37},{"x":0.2,"y":0.05,"v":33},{"x":0.225,"y":0.05,"v":30},{"x":0.25,"y":0.05,"v":27},{"x":0.275,"y":0.05,"v":24},{"x":0.3,"y":0.05,"v":22},{"x":0.325,"y":0.05,"v":20},{"x":0.35,"y":0.05,"v":18},{"x":0.375,"y":0.05,"v":17},{"x":0.4,"y":0.05,"v":16},{"x":0.425,"y":0.05,"v":15},{"x":0.45,"y":0.05,"v":14},{"x":0.475,"y":0.05,"v":13},
{"x":0.1,"y":0,"v":55},{"x":0.125,"y":0,"v":48},{"x":0.15,"y":0,"v":42},{"x":0.175,"y":0,"v":37},{"x":0.2,"y":0,"v":33},{"x":0.225,"y":0,"v":29},{"x":0.25,"y":0,"v":26},{"x":0.275,"y":0,"v":23},{"x":0.3,"y":0,"v":21},{"x":0.325,"y":0,"v":19},{"x":0.35,"y":0,"v":17},{"x":0.375,"y":0,"v":16},{"x":0.4,"y":0,"v":15},{"x":0.425,"y":0,"v":14},{"x":0.45,"y":0,"v":13},{"x":0.475,"y":0,"v":12},
{"x":0.1,"y":-0.05,"v":55},{"x":0.125,"y":-0.05,"v":48},{"x":0.15,"y":-0.05,"v":42},{"x":0.175,"y":-0.05,"v":37},{"x":0.2,"y":-0.05,"v":33},{"x":0.225,"y":-0.05,"v":29},{"x":0.25,"y":-0.05,"v":26},{"x":0.275,"y":-0.05,"v":23},{"x":0.3,"y":-0.05,"v":21},{"x":0.325,"y":-0.05,"v":19},{"x":0.35,"y":-0.05,"v":17},{"x":0.375,"y":-0.05,"v":15.5},{"x":0.4,"y":-0.05,"v":14.5},{"x":0.425,"y":-0.05,"v":13.5},{"x":0.45,"y":-0.05,"v":12.5},{"x":0.475,"y":-0.05,"v":11.5},
{"x":0.1,"y":-0.1,"v":55},{"x":0.125,"y":-0.1,"v":48},{"x":0.15,"y":-0.1,"v":42},{"x":0.175,"y":-0.1,"v":37},{"x":0.2,"y":-0.1,"v":33},{"x":0.225,"y":-0.1,"v":29},{"x":0.25,"y":-0.1,"v":26},{"x":0.275,"y":-0.1,"v":23},{"x":0.3,"y":-0.1,"v":21},{"x":0.325,"y":-0.1,"v":19},{"x":0.35,"y":-0.1,"v":17},{"x":0.375,"y":-0.1,"v":15.5},{"x":0.4,"y":-0.1,"v":14},{"x":0.425,"y":-0.1,"v":13},{"x":0.45,"y":-0.1,"v":12},{"x":0.475,"y":-0.1,"v":11},
{"x":0.1,"y":-0.15,"v":55},{"x":0.125,"y":-0.15,"v":48},{"x":0.15,"y":-0.15,"v":42},{"x":0.175,"y":-0.15,"v":37},{"x":0.2,"y":-0.15,"v":33},{"x":0.225,"y":-0.15,"v":29},{"x":0.25,"y":-0.15,"v":26},{"x":0.275,"y":-0.15,"v":23},{"x":0.3,"y":-0.15,"v":21},{"x":0.325,"y":-0.15,"v":19},{"x":0.35,"y":-0.15,"v":17},{"x":0.375,"y":-0.15,"v":15.5},{"x":0.4,"y":-0.15,"v":14},{"x":0.425,"y":-0.15,"v":13},{"x":0.45,"y":-0.15,"v":12},{"x":0.475,"y":-0.15,"v":11},
{"x":0.1,"y":-0.2,"v":54},{"x":0.125,"y":-0.2,"v":48},{"x":0.15,"y":-0.2,"v":42},{"x":0.175,"y":-0.2,"v":38},{"x":0.2,"y":-0.2,"v":34},{"x":0.225,"y":-0.2,"v":30},{"x":0.25,"y":-0.2,"v":27},{"x":0.275,"y":-0.2,"v":24},{"x":0.3,"y":-0.2,"v":22},{"x":0.325,"y":-0.2,"v":20},{"x":0.35,"y":-0.2,"v":18},{"x":0.375,"y":-0.2,"v":16},{"x":0.4,"y":-0.2,"v":15},{"x":0.425,"y":-0.2,"v":14},{"x":0.45,"y":-0.2,"v":13},{"x":0.475,"y":-0.2,"v":12},
{"x":0.1,"y":-0.25,"v":53},{"x":0.125,"y":-0.25,"v":48},{"x":0.15,"y":-0.25,"v":43},{"x":0.175,"y":-0.25,"v":39},{"x":0.2,"y":-0.25,"v":35},{"x":0.225,"y":-0.25,"v":32},{"x":0.25,"y":-0.25,"v":29},{"x":0.275,"y":-0.25,"v":26},{"x":0.3,"y":-0.25,"v":24},{"x":0.325,"y":-0.25,"v":22},{"x":0.35,"y":-0.25,"v":20},{"x":0.375,"y":-0.25,"v":18},{"x":0.4,"y":-0.25,"v":17},{"x":0.425,"y":-0.25,"v":16},{"x":0.45,"y":-0.25,"v":15},{"x":0.475,"y":-0.25,"v":14},
{"x":0.1,"y":-0.3,"v":51},{"x":0.125,"y":-0.3,"v":48},{"x":0.15,"y":-0.3,"v":44},{"x":0.175,"y":-0.3,"v":41},{"x":0.2,"y":-0.3,"v":38},{"x":0.225,"y":-0.3,"v":35},{"x":0.25,"y":-0.3,"v":32},{"x":0.275,"y":-0.3,"v":30},{"x":0.3,"y":-0.3,"v":28},{"x":0.325,"y":-0.3,"v":26},{"x":0.35,"y":-0.3,"v":24},{"x":0.375,"y":-0.3,"v":22},{"x":0.4,"y":-0.3,"v":21},{"x":0.425,"y":-0.3,"v":20},{"x":0.45,"y":-0.3,"v":19},{"x":0.475,"y":-0.3,"v":18},
{"x":0.1,"y":-0.35,"v":44},{"x":0.125,"y":-0.35,"v":43},{"x":0.15,"y":-0.35,"v":41},{"x":0.175,"y":-0.35,"v":39},{"x":0.2,"y":-0.35,"v":37},{"x":0.225,"y":-0.35,"v":35},{"x":0.25,"y":-0.35,"v":33},{"x":0.275,"y":-0.35,"v":31},{"x":0.3,"y":-0.35,"v":29},{"x":0.325,"y":-0.35,"v":27},{"x":0.35,"y":-0.35,"v":26},{"x":0.375,"y":-0.35,"v":25},{"x":0.4,"y":-0.35,"v":24},{"x":0.425,"y":-0.35,"v":23},{"x":0.45,"y":-0.35,"v":22},{"x":0.475,"y":-0.35,"v":21},
{"x":0.1,"y":-0.4,"v":27},{"x":0.125,"y":-0.4,"v":27},{"x":0.15,"y":-0.4,"v":27},{"x":0.175,"y":-0.4,"v":26},{"x":0.2,"y":-0.4,"v":25},{"x":0.225,"y":-0.4,"v":24},{"x":0.25,"y":-0.4,"v":23},{"x":0.275,"y":-0.4,"v":22},{"x":0.3,"y":-0.4,"v":21},{"x":0.325,"y":-0.4,"v":20},{"x":0.35,"y":-0.4,"v":19},{"x":0.375,"y":-0.4,"v":18},{"x":0.4,"y":-0.4,"v":18},{"x":0.425,"y":-0.4,"v":17},{"x":0.45,"y":-0.4,"v":17},{"x":0.475,"y":-0.4,"v":16}]
},
"spacing":14,
"resolve":{"scale":{"color":"independent"}},
"vconcat":[
{"title":{"text":"Silicon","offset":14,"anchor":"middle"},"spacing":0,"resolve":{"scale":{"color":"independent"}},
"vconcat":[
{"spacing":46,"hconcat":[
{"width":220,"height":163,"layer":[
{"data":{"name":"aRed"},"mark":{"type":"line","color":"#E3131B","strokeWidth":3},"encoding":{"x":{"field":"x","type":"quantitative","title":"Φ","scale":{"domain":[0,0.8],"nice":false},"axis":{"values":[0,0.2,0.4,0.6,0.8],"titleFontSize":17}},"y":{"field":"y","type":"quantitative","title":"Coincidences [s⁻¹]","scale":{"domain":[0,5],"nice":false},"axis":{"values":[0,1,2,3,4,5]}},"detail":{"field":"s","type":"nominal"}}},
{"data":{"name":"aBlack"},"mark":{"type":"line","color":"#000000","strokeWidth":3},"encoding":{"x":{"field":"x","type":"quantitative","title":"Φ"},"y":{"field":"y","type":"quantitative","title":"Coincidences [s⁻¹]","axis":{"values":[0,1,2,3,4,5]}},"detail":{"field":"s","type":"nominal"}}},
{"data":{"name":"aPts"},"mark":{"type":"rule","color":"#F07070","strokeWidth":1},"encoding":{"x":{"field":"x","type":"quantitative","title":"Φ"},"y":{"field":"lo","type":"quantitative","title":"Coincidences [s⁻¹]","axis":{"values":[0,1,2,3,4,5]}},"y2":{"field":"hi"}}},
{"data":{"name":"aPts"},"mark":{"type":"point","shape":"circle","color":"#F07070","size":28,"strokeWidth":1},"encoding":{"x":{"field":"x","type":"quantitative","title":"Φ"},"y":{"field":"y","type":"quantitative","title":"Coincidences [s⁻¹]","axis":{"values":[0,1,2,3,4,5]}}}},
{"data":{"values":[{"t":"No TPA","x":0.126,"y":2.52}]},"mark":{"type":"text","fontSize":15,"color":"#000000"},"encoding":{"x":{"field":"x","type":"quantitative","title":"Φ"},"y":{"field":"y","type":"quantitative","title":"Coincidences [s⁻¹]","axis":{"values":[0,1,2,3,4,5]}},"text":{"field":"t"}}},
{"data":{"values":[{"t":"TPA","x":0.495,"y":4.41},{"t":"Si","x":0.721,"y":4.52}]},"mark":{"type":"text","fontSize":15,"color":"#C8141C"},"encoding":{"x":{"field":"x","type":"quantitative","title":"Φ"},"y":{"field":"y","type":"quantitative","title":"Coincidences [s⁻¹]","axis":{"values":[0,1,2,3,4,5]}},"text":{"field":"t"}}},
{"data":{"values":[{"x":0.182,"y":2.96,"x2":0.261,"y2":3.28}]},"mark":{"type":"rule","color":"#000000","strokeWidth":1},"encoding":{"x":{"field":"x","type":"quantitative","title":"Φ"},"y":{"field":"y","type":"quantitative","title":"Coincidences [s⁻¹]","axis":{"values":[0,1,2,3,4,5]}},"x2":{"field":"x2"},"y2":{"field":"y2"}}},
{"data":{"values":[{"x":0.261,"y":3.28}]},"mark":{"type":"point","shape":"triangle-right","angle":-26,"filled":true,"color":"#000000","size":22,"opacity":1},"encoding":{"x":{"field":"x","type":"quantitative","title":"Φ"},"y":{"field":"y","type":"quantitative","title":"Coincidences [s⁻¹]","axis":{"values":[0,1,2,3,4,5]}}}},
{"data":{"values":[{"x":0.505,"y":4.05,"x2":0.545,"y2":3.64}]},"mark":{"type":"rule","color":"#C8141C","strokeWidth":1},"encoding":{"x":{"field":"x","type":"quantitative","title":"Φ"},"y":{"field":"y","type":"quantitative","title":"Coincidences [s⁻¹]","axis":{"values":[0,1,2,3,4,5]}},"x2":{"field":"x2"},"y2":{"field":"y2"}}},
{"data":{"values":[{"x":0.545,"y":3.64}]},"mark":{"type":"point","shape":"triangle-right","angle":50,"filled":true,"color":"#C8141C","size":22,"opacity":1},"encoding":{"x":{"field":"x","type":"quantitative","title":"Φ"},"y":{"field":"y","type":"quantitative","title":"Coincidences [s⁻¹]","axis":{"values":[0,1,2,3,4,5]}}}},
{"data":{"values":[{"t":"(a)","x":-0.2,"y":5}]},"mark":{"type":"text","align":"left","baseline":"middle","fontSize":19,"color":"#000000"},"encoding":{"x":{"field":"x","type":"quantitative","title":"Φ"},"y":{"field":"y","type":"quantitative","title":"Coincidences [s⁻¹]","axis":{"values":[0,1,2,3,4,5]}},"text":{"field":"t"}}}
]},
{"width":224,"height":161,"layer":[
{"data":{"name":"bRed"},"mark":{"type":"line","color":"#E3131B","strokeWidth":3},"encoding":{"x":{"field":"x","type":"quantitative","title":"Φ","scale":{"domain":[0,0.8],"nice":false},"axis":{"values":[0,0.2,0.4,0.6,0.8],"titleFontSize":17}},"y":{"field":"y","type":"quantitative","title":"CAR","scale":{"domain":[0,150],"nice":false},"axis":{"values":[0,50,100,150],"labelExpr":"datum.value==50?'30':datum.value==100?'90':datum.label"}}}},
{"data":{"name":"bBlack"},"mark":{"type":"line","color":"#000000","strokeWidth":3},"encoding":{"x":{"field":"x","type":"quantitative","title":"Φ"},"y":{"field":"y","type":"quantitative","title":"CAR"}}},
{"data":{"name":"bPts"},"mark":{"type":"rule","color":"#F07070","strokeWidth":1},"encoding":{"x":{"field":"x","type":"quantitative","title":"Φ"},"y":{"field":"lo","type":"quantitative","title":"CAR"},"y2":{"field":"hi"}}},
{"data":{"name":"bPts"},"mark":{"type":"point","shape":"circle","color":"#F07070","size":28,"strokeWidth":1},"encoding":{"x":{"field":"x","type":"quantitative","title":"Φ"},"y":{"field":"y","type":"quantitative","title":"CAR"}}},
{"data":{"values":[{"t":"Si","x":0.71,"y":134}]},"mark":{"type":"text","fontSize":15,"color":"#C8141C"},"encoding":{"x":{"field":"x","type":"quantitative","title":"Φ"},"y":{"field":"y","type":"quantitative","title":"CAR"},"text":{"field":"t"}}},
{"data":{"values":[{"t":"(b)","x":-0.19,"y":150}]},"mark":{"type":"text","align":"left","baseline":"middle","fontSize":19,"color":"#000000"},"encoding":{"x":{"field":"x","type":"quantitative","title":"Φ"},"y":{"field":"y","type":"quantitative","title":"CAR"},"text":{"field":"t"}}}
]}
]},
{"spacing":0,"resolve":{"scale":{"color":"independent"}},"hconcat":[
{"width":222,"height":178,"layer":[
{"data":{"name":"cMap"},"mark":{"type":"rect","binSpacing":0},"encoding":{"x":{"field":"x","type":"quantitative","title":"Φ","bin":{"binned":true,"step":0.05},"scale":{"domain":[0,0.8],"nice":false},"axis":{"values":[0,0.2,0.4,0.6,0.8],"titleFontSize":17}},"y":{"field":"y","type":"quantitative","title":"β₂L [ps²]","bin":{"binned":true,"step":0.05},"scale":{"domain":[-0.4,0.2],"nice":false},"axis":{"values":[-0.4,-0.2,0,0.2]}},"color":{"field":"v","type":"quantitative","scale":{"domain":[0,1.25,3.75,6.25,8.75,10],"range":["#00007F","#0000FF","#00FFFF","#FFFF00","#FF0000","#7F0000"],"interpolate":"rgb"},"legend":{"title":"Coincidences [s⁻¹]","values":[0,2,4,6,8,10],"gradientLength":178,"encode":{"title":{"update":{"angle":{"value":270},"baseline":{"value":"top"}}}}}}}},
{"data":{"name":"cMap"},"mark":{"type":"rect","binSpacing":0,"xOffset":0.8,"yOffset":0.8,"clip":true},"encoding":{"x":{"field":"x","type":"quantitative","title":"Φ","bin":{"binned":true,"step":0.05}},"y":{"field":"y","type":"quantitative","title":"β₂L [ps²]","bin":{"binned":true,"step":0.05}},"color":{"field":"v","type":"quantitative","scale":{"domain":[0,1.25,3.75,6.25,8.75,10],"range":["#00007F","#0000FF","#00FFFF","#FFFF00","#FF0000","#7F0000"],"interpolate":"rgb"},"legend":{"title":"Coincidences [s⁻¹]","values":[0,2,4,6,8,10],"gradientLength":178,"encode":{"title":{"update":{"angle":{"value":270},"baseline":{"value":"top"}}}}}}}},
{"data":{"values":[{"x":0.013,"x2":0.8,"y":-0.156}]},"mark":{"type":"rule","color":"#FFFFFF","strokeWidth":7.5,"strokeDash":[17.3,8.4],"strokeCap":"butt"},"encoding":{"x":{"field":"x","type":"quantitative","title":"Φ"},"x2":{"field":"x2"},"y":{"field":"y","type":"quantitative","title":"β₂L [ps²]"}}},
{"data":{"values":[{"t":"(c)","x":-0.19,"y":0.2}]},"mark":{"type":"text","align":"left","baseline":"middle","fontSize":19,"color":"#000000"},"encoding":{"x":{"field":"x","type":"quantitative","title":"Φ"},"y":{"field":"y","type":"quantitative","title":"β₂L [ps²]"},"text":{"field":"t"}}}
]},
{"width":231,"height":175,"layer":[
{"data":{"name":"dFine"},"mark":{"type":"rect","binSpacing":0},"encoding":{"x":{"field":"x","type":"quantitative","title":"Φ","bin":{"binned":true,"step":0.01},"scale":{"domain":[0,0.8],"nice":false},"axis":{"values":[0,0.2,0.4,0.6,0.8],"titleFontSize":17}},"y":{"field":"y","type":"quantitative","title":"β₂L [ps²]","bin":{"binned":true,"step":0.05},"scale":{"domain":[-0.4,0.2],"nice":false},"axis":{"values":[-0.4,-0.2,0,0.2]}},"color":{"field":"v","type":"quantitative","scale":{"domain":[0,16.25,48.75,81.25,113.75,130],"range":["#00007F","#0000FF","#00FFFF","#FFFF00","#FF0000","#7F0000"],"interpolate":"rgb"},"legend":{"title":"CAR","values":[0,20,40,60,80,100,120],"gradientLength":175,"encode":{"title":{"update":{"angle":{"value":270},"baseline":{"value":"top"}}}}}}}},
{"data":{"name":"dCoarse"},"mark":{"type":"rect","binSpacing":0},"encoding":{"x":{"field":"x","type":"quantitative","title":"Φ","bin":{"binned":true,"step":0.04}},"y":{"field":"y","type":"quantitative","title":"β₂L [ps²]","bin":{"binned":true,"step":0.05}},"color":{"field":"v","type":"quantitative","scale":{"domain":[0,16.25,48.75,81.25,113.75,130],"range":["#00007F","#0000FF","#00FFFF","#FFFF00","#FF0000","#7F0000"],"interpolate":"rgb"},"legend":{"title":"CAR","values":[0,20,40,60,80,100,120],"gradientLength":175,"encode":{"title":{"update":{"angle":{"value":270},"baseline":{"value":"top"}}}}}}}},
{"data":{"name":"dFine"},"mark":{"type":"rect","binSpacing":0,"xOffset":0.8,"yOffset":0.8,"clip":true},"encoding":{"x":{"field":"x","type":"quantitative","title":"Φ","bin":{"binned":true,"step":0.01}},"y":{"field":"y","type":"quantitative","title":"β₂L [ps²]","bin":{"binned":true,"step":0.05}},"color":{"field":"v","type":"quantitative","scale":{"domain":[0,16.25,48.75,81.25,113.75,130],"range":["#00007F","#0000FF","#00FFFF","#FFFF00","#FF0000","#7F0000"],"interpolate":"rgb"},"legend":{"title":"CAR","values":[0,20,40,60,80,100,120],"gradientLength":175,"encode":{"title":{"update":{"angle":{"value":270},"baseline":{"value":"top"}}}}}}}},
{"data":{"name":"dCoarse"},"mark":{"type":"rect","binSpacing":0,"xOffset":0.8,"yOffset":0.8,"clip":true},"encoding":{"x":{"field":"x","type":"quantitative","title":"Φ","bin":{"binned":true,"step":0.04}},"y":{"field":"y","type":"quantitative","title":"β₂L [ps²]","bin":{"binned":true,"step":0.05}},"color":{"field":"v","type":"quantitative","scale":{"domain":[0,16.25,48.75,81.25,113.75,130],"range":["#00007F","#0000FF","#00FFFF","#FFFF00","#FF0000","#7F0000"],"interpolate":"rgb"},"legend":{"title":"CAR","values":[0,20,40,60,80,100,120],"gradientLength":175,"encode":{"title":{"update":{"angle":{"value":270},"baseline":{"value":"top"}}}}}}}},
{"data":{"values":[{"x":0.025,"x2":0.78,"y":-0.156}]},"mark":{"type":"rule","color":"#FFFFFF","strokeWidth":7.5,"strokeDash":[17.3,8.4],"strokeCap":"butt"},"encoding":{"x":{"field":"x","type":"quantitative","title":"Φ"},"x2":{"field":"x2"},"y":{"field":"y","type":"quantitative","title":"β₂L [ps²]"}}},
{"data":{"values":[{"t":"(d)","x":-0.18,"y":0.19}]},"mark":{"type":"text","align":"left","baseline":"middle","fontSize":19,"color":"#000000"},"encoding":{"x":{"field":"x","type":"quantitative","title":"Φ"},"y":{"field":"y","type":"quantitative","title":"β₂L [ps²]"},"text":{"field":"t"}}}
]}
]}
]},
{"title":{"text":"GaInP","offset":17,"anchor":"middle"},"spacing":0,"resolve":{"scale":{"color":"independent"}},
"vconcat":[
{"spacing":47,"hconcat":[
{"width":221,"height":163,"layer":[
{"data":{"name":"ePts"},"mark":{"type":"rule","color":"#8080E0","strokeWidth":1},"encoding":{"x":{"field":"x","type":"quantitative","title":"Φ","scale":{"domain":[0,0.5],"nice":false},"axis":{"values":[0,0.1,0.2,0.3,0.4,0.5],"titleFontSize":17}},"y":{"field":"lo","type":"quantitative","title":"Coincidences [s⁻¹]","scale":{"domain":[0,5],"nice":false},"axis":{"values":[0,1,2,3,4,5]}},"y2":{"field":"hi"}}},
{"data":{"name":"ePts"},"mark":{"type":"point","shape":"square","color":"#8080E0","size":24,"strokeWidth":1},"encoding":{"x":{"field":"x","type":"quantitative","title":"Φ"},"y":{"field":"y","type":"quantitative","title":"Coincidences [s⁻¹]","axis":{"values":[0,1,2,3,4,5]}}}},
{"data":{"name":"eLines"},"mark":{"type":"line","color":"#1010C0","strokeWidth":3},"encoding":{"x":{"field":"x","type":"quantitative","title":"Φ"},"y":{"field":"y","type":"quantitative","title":"Coincidences [s⁻¹]","axis":{"values":[0,1,2,3,4,5]}},"detail":{"field":"s","type":"nominal"}}},
{"data":{"values":[{"t":"GaInP","x":0.069,"y":4.57},{"t":"TPA-Free","x":0.224,"y":2.99}]},"mark":{"type":"text","fontSize":15,"color":"#1F3FBF"},"encoding":{"x":{"field":"x","type":"quantitative","title":"Φ"},"y":{"field":"y","type":"quantitative","title":"Coincidences [s⁻¹]","axis":{"values":[0,1,2,3,4,5]}},"text":{"field":"t"}}},
{"data":{"values":[{"x":0.263,"y":3.32,"x2":0.333,"y2":3.77}]},"mark":{"type":"rule","color":"#1F3FBF","strokeWidth":1},"encoding":{"x":{"field":"x","type":"quantitative","title":"Φ"},"y":{"field":"y","type":"quantitative","title":"Coincidences [s⁻¹]","axis":{"values":[0,1,2,3,4,5]}},"x2":{"field":"x2"},"y2":{"field":"y2"}}},
{"data":{"values":[{"x":0.333,"y":3.77}]},"mark":{"type":"point","shape":"triangle-right","angle":-25,"filled":true,"color":"#1F3FBF","size":22,"opacity":1},"encoding":{"x":{"field":"x","type":"quantitative","title":"Φ"},"y":{"field":"y","type":"quantitative","title":"Coincidences [s⁻¹]","axis":{"values":[0,1,2,3,4,5]}}}},
{"data":{"values":[{"t":"(e)","x":-0.125,"y":4.94}]},"mark":{"type":"text","align":"left","baseline":"middle","fontSize":19,"color":"#000000"},"encoding":{"x":{"field":"x","type":"quantitative","title":"Φ"},"y":{"field":"y","type":"quantitative","title":"Coincidences [s⁻¹]","axis":{"values":[0,1,2,3,4,5]}},"text":{"field":"t"}}}
]},
{"width":224,"height":163,"layer":[
{"data":{"name":"fPts"},"mark":{"type":"rule","color":"#8080E0","strokeWidth":1},"encoding":{"x":{"field":"x","type":"quantitative","title":"Φ","scale":{"domain":[0,0.5],"nice":false},"axis":{"values":[0,0.1,0.2,0.3,0.4,0.5],"titleFontSize":17}},"y":{"field":"lo","type":"quantitative","title":"CAR","scale":{"domain":[0,150],"nice":false},"axis":{"values":[0,50,100,150],"labelExpr":"datum.value==50?'30':datum.value==100?'90':datum.label"}},"y2":{"field":"hi"}}},
{"data":{"name":"fPts"},"mark":{"type":"point","shape":"square","color":"#8080E0","size":24,"strokeWidth":1},"encoding":{"x":{"field":"x","type":"quantitative","title":"Φ"},"y":{"field":"y","type":"quantitative","title":"CAR"}}},
{"data":{"name":"fLine"},"mark":{"type":"line","color":"#1010C0","strokeWidth":3},"encoding":{"x":{"field":"x","type":"quantitative","title":"Φ"},"y":{"field":"y","type":"quantitative","title":"CAR"}}},
{"data":{"values":[{"t":"GaInP","x":0.074,"y":135.6}]},"mark":{"type":"text","fontSize":15,"color":"#1F3FBF"},"encoding":{"x":{"field":"x","type":"quantitative","title":"Φ"},"y":{"field":"y","type":"quantitative","title":"CAR"},"text":{"field":"t"}}},
{"data":{"values":[{"t":"(f)","x":-0.118,"y":147}]},"mark":{"type":"text","align":"left","baseline":"middle","fontSize":19,"color":"#000000"},"encoding":{"x":{"field":"x","type":"quantitative","title":"Φ"},"y":{"field":"y","type":"quantitative","title":"CAR"},"text":{"field":"t"}}}
]}
]},
{"spacing":0,"resolve":{"scale":{"color":"independent"}},"hconcat":[
{"width":220,"height":177,"layer":[
{"data":{"name":"gMap"},"mark":{"type":"rect","binSpacing":0},"encoding":{"x":{"field":"x","type":"quantitative","title":"Φ","bin":{"binned":true,"step":0.025},"scale":{"domain":[0,0.5],"nice":false},"axis":{"values":[0,0.1,0.2,0.3,0.4,0.5],"titleFontSize":17}},"y":{"field":"y","type":"quantitative","title":"β₂L [ps²]","bin":{"binned":true,"step":0.05},"scale":{"domain":[-0.4,0.2],"nice":false},"axis":{"values":[-0.4,-0.2,0,0.2]}},"color":{"field":"v","type":"quantitative","scale":{"domain":[0,1.25,3.75,6.25,8.75,10],"range":["#00007F","#0000FF","#00FFFF","#FFFF00","#FF0000","#7F0000"],"interpolate":"rgb"},"legend":{"title":"Coincidences [s⁻¹]","values":[0,2,4,6,8,10],"gradientLength":177,"encode":{"title":{"update":{"angle":{"value":270},"baseline":{"value":"top"}}}}}}}},
{"data":{"name":"gMap"},"mark":{"type":"rect","binSpacing":0,"xOffset":0.8,"yOffset":0.8,"clip":true},"encoding":{"x":{"field":"x","type":"quantitative","title":"Φ","bin":{"binned":true,"step":0.025}},"y":{"field":"y","type":"quantitative","title":"β₂L [ps²]","bin":{"binned":true,"step":0.05}},"color":{"field":"v","type":"quantitative","scale":{"domain":[0,1.25,3.75,6.25,8.75,10],"range":["#00007F","#0000FF","#00FFFF","#FFFF00","#FF0000","#7F0000"],"interpolate":"rgb"},"legend":{"title":"Coincidences [s⁻¹]","values":[0,2,4,6,8,10],"gradientLength":177,"encode":{"title":{"update":{"angle":{"value":270},"baseline":{"value":"top"}}}}}}}},
{"data":{"values":[{"x":0.02,"x2":0.5,"y":-0.186}]},"mark":{"type":"rule","color":"#FFFFFF","strokeWidth":7.5,"strokeDash":[17.3,8.4],"strokeCap":"butt"},"encoding":{"x":{"field":"x","type":"quantitative","title":"Φ"},"x2":{"field":"x2"},"y":{"field":"y","type":"quantitative","title":"β₂L [ps²]"}}},
{"data":{"values":[{"t":"(g)","x":-0.125,"y":0.186}]},"mark":{"type":"text","align":"left","baseline":"middle","fontSize":19,"color":"#000000"},"encoding":{"x":{"field":"x","type":"quantitative","title":"Φ"},"y":{"field":"y","type":"quantitative","title":"β₂L [ps²]"},"text":{"field":"t"}}}
]},
{"width":226,"height":175,"layer":[
{"data":{"name":"hFine"},"mark":{"type":"rect","binSpacing":0},"encoding":{"x":{"field":"x","type":"quantitative","title":"Φ","bin":{"binned":true,"step":0.01},"scale":{"domain":[0,0.5],"nice":false},"axis":{"values":[0,0.1,0.2,0.3,0.4,0.5],"titleFontSize":17}},"y":{"field":"y","type":"quantitative","title":"β₂L [ps²]","bin":{"binned":true,"step":0.05},"scale":{"domain":[-0.4,0.2],"nice":false},"axis":{"values":[-0.4,-0.2,0,0.2]}},"color":{"field":"v","type":"quantitative","scale":{"domain":[0,16.25,48.75,81.25,113.75,130],"range":["#00007F","#0000FF","#00FFFF","#FFFF00","#FF0000","#7F0000"],"interpolate":"rgb"},"legend":{"title":"CAR","values":[0,20,40,60,80,100,120],"gradientLength":175,"encode":{"title":{"update":{"angle":{"value":270},"baseline":{"value":"top"}}}}}}}},
{"data":{"name":"hCoarse"},"mark":{"type":"rect","binSpacing":0},"encoding":{"x":{"field":"x","type":"quantitative","title":"Φ","bin":{"binned":true,"step":0.025}},"y":{"field":"y","type":"quantitative","title":"β₂L [ps²]","bin":{"binned":true,"step":0.05}},"color":{"field":"v","type":"quantitative","scale":{"domain":[0,16.25,48.75,81.25,113.75,130],"range":["#00007F","#0000FF","#00FFFF","#FFFF00","#FF0000","#7F0000"],"interpolate":"rgb"},"legend":{"title":"CAR","values":[0,20,40,60,80,100,120],"gradientLength":175,"encode":{"title":{"update":{"angle":{"value":270},"baseline":{"value":"top"}}}}}}}},
{"data":{"name":"hFine"},"mark":{"type":"rect","binSpacing":0,"xOffset":0.8,"yOffset":0.8,"clip":true},"encoding":{"x":{"field":"x","type":"quantitative","title":"Φ","bin":{"binned":true,"step":0.01}},"y":{"field":"y","type":"quantitative","title":"β₂L [ps²]","bin":{"binned":true,"step":0.05}},"color":{"field":"v","type":"quantitative","scale":{"domain":[0,16.25,48.75,81.25,113.75,130],"range":["#00007F","#0000FF","#00FFFF","#FFFF00","#FF0000","#7F0000"],"interpolate":"rgb"},"legend":{"title":"CAR","values":[0,20,40,60,80,100,120],"gradientLength":175,"encode":{"title":{"update":{"angle":{"value":270},"baseline":{"value":"top"}}}}}}}},
{"data":{"name":"hCoarse"},"mark":{"type":"rect","binSpacing":0,"xOffset":0.8,"yOffset":0.8,"clip":true},"encoding":{"x":{"field":"x","type":"quantitative","title":"Φ","bin":{"binned":true,"step":0.025}},"y":{"field":"y","type":"quantitative","title":"β₂L [ps²]","bin":{"binned":true,"step":0.05}},"color":{"field":"v","type":"quantitative","scale":{"domain":[0,16.25,48.75,81.25,113.75,130],"range":["#00007F","#0000FF","#00FFFF","#FFFF00","#FF0000","#7F0000"],"interpolate":"rgb"},"legend":{"title":"CAR","values":[0,20,40,60,80,100,120],"gradientLength":175,"encode":{"title":{"update":{"angle":{"value":270},"baseline":{"value":"top"}}}}}}}},
{"data":{"values":[{"x":0.008,"x2":0.49,"y":-0.185}]},"mark":{"type":"rule","color":"#FFFFFF","strokeWidth":7.5,"strokeDash":[17.3,8.4],"strokeCap":"butt"},"encoding":{"x":{"field":"x","type":"quantitative","title":"Φ"},"x2":{"field":"x2"},"y":{"field":"y","type":"quantitative","title":"β₂L [ps²]"}}},
{"data":{"values":[{"t":"(h)","x":-0.13,"y":0.186}]},"mark":{"type":"text","align":"left","baseline":"middle","fontSize":19,"color":"#000000"},"encoding":{"x":{"field":"x","type":"quantitative","title":"Φ"},"y":{"field":"y","type":"quantitative","title":"β₂L [ps²]"},"text":{"field":"t"}}}
]}
]}
]}
]
}
